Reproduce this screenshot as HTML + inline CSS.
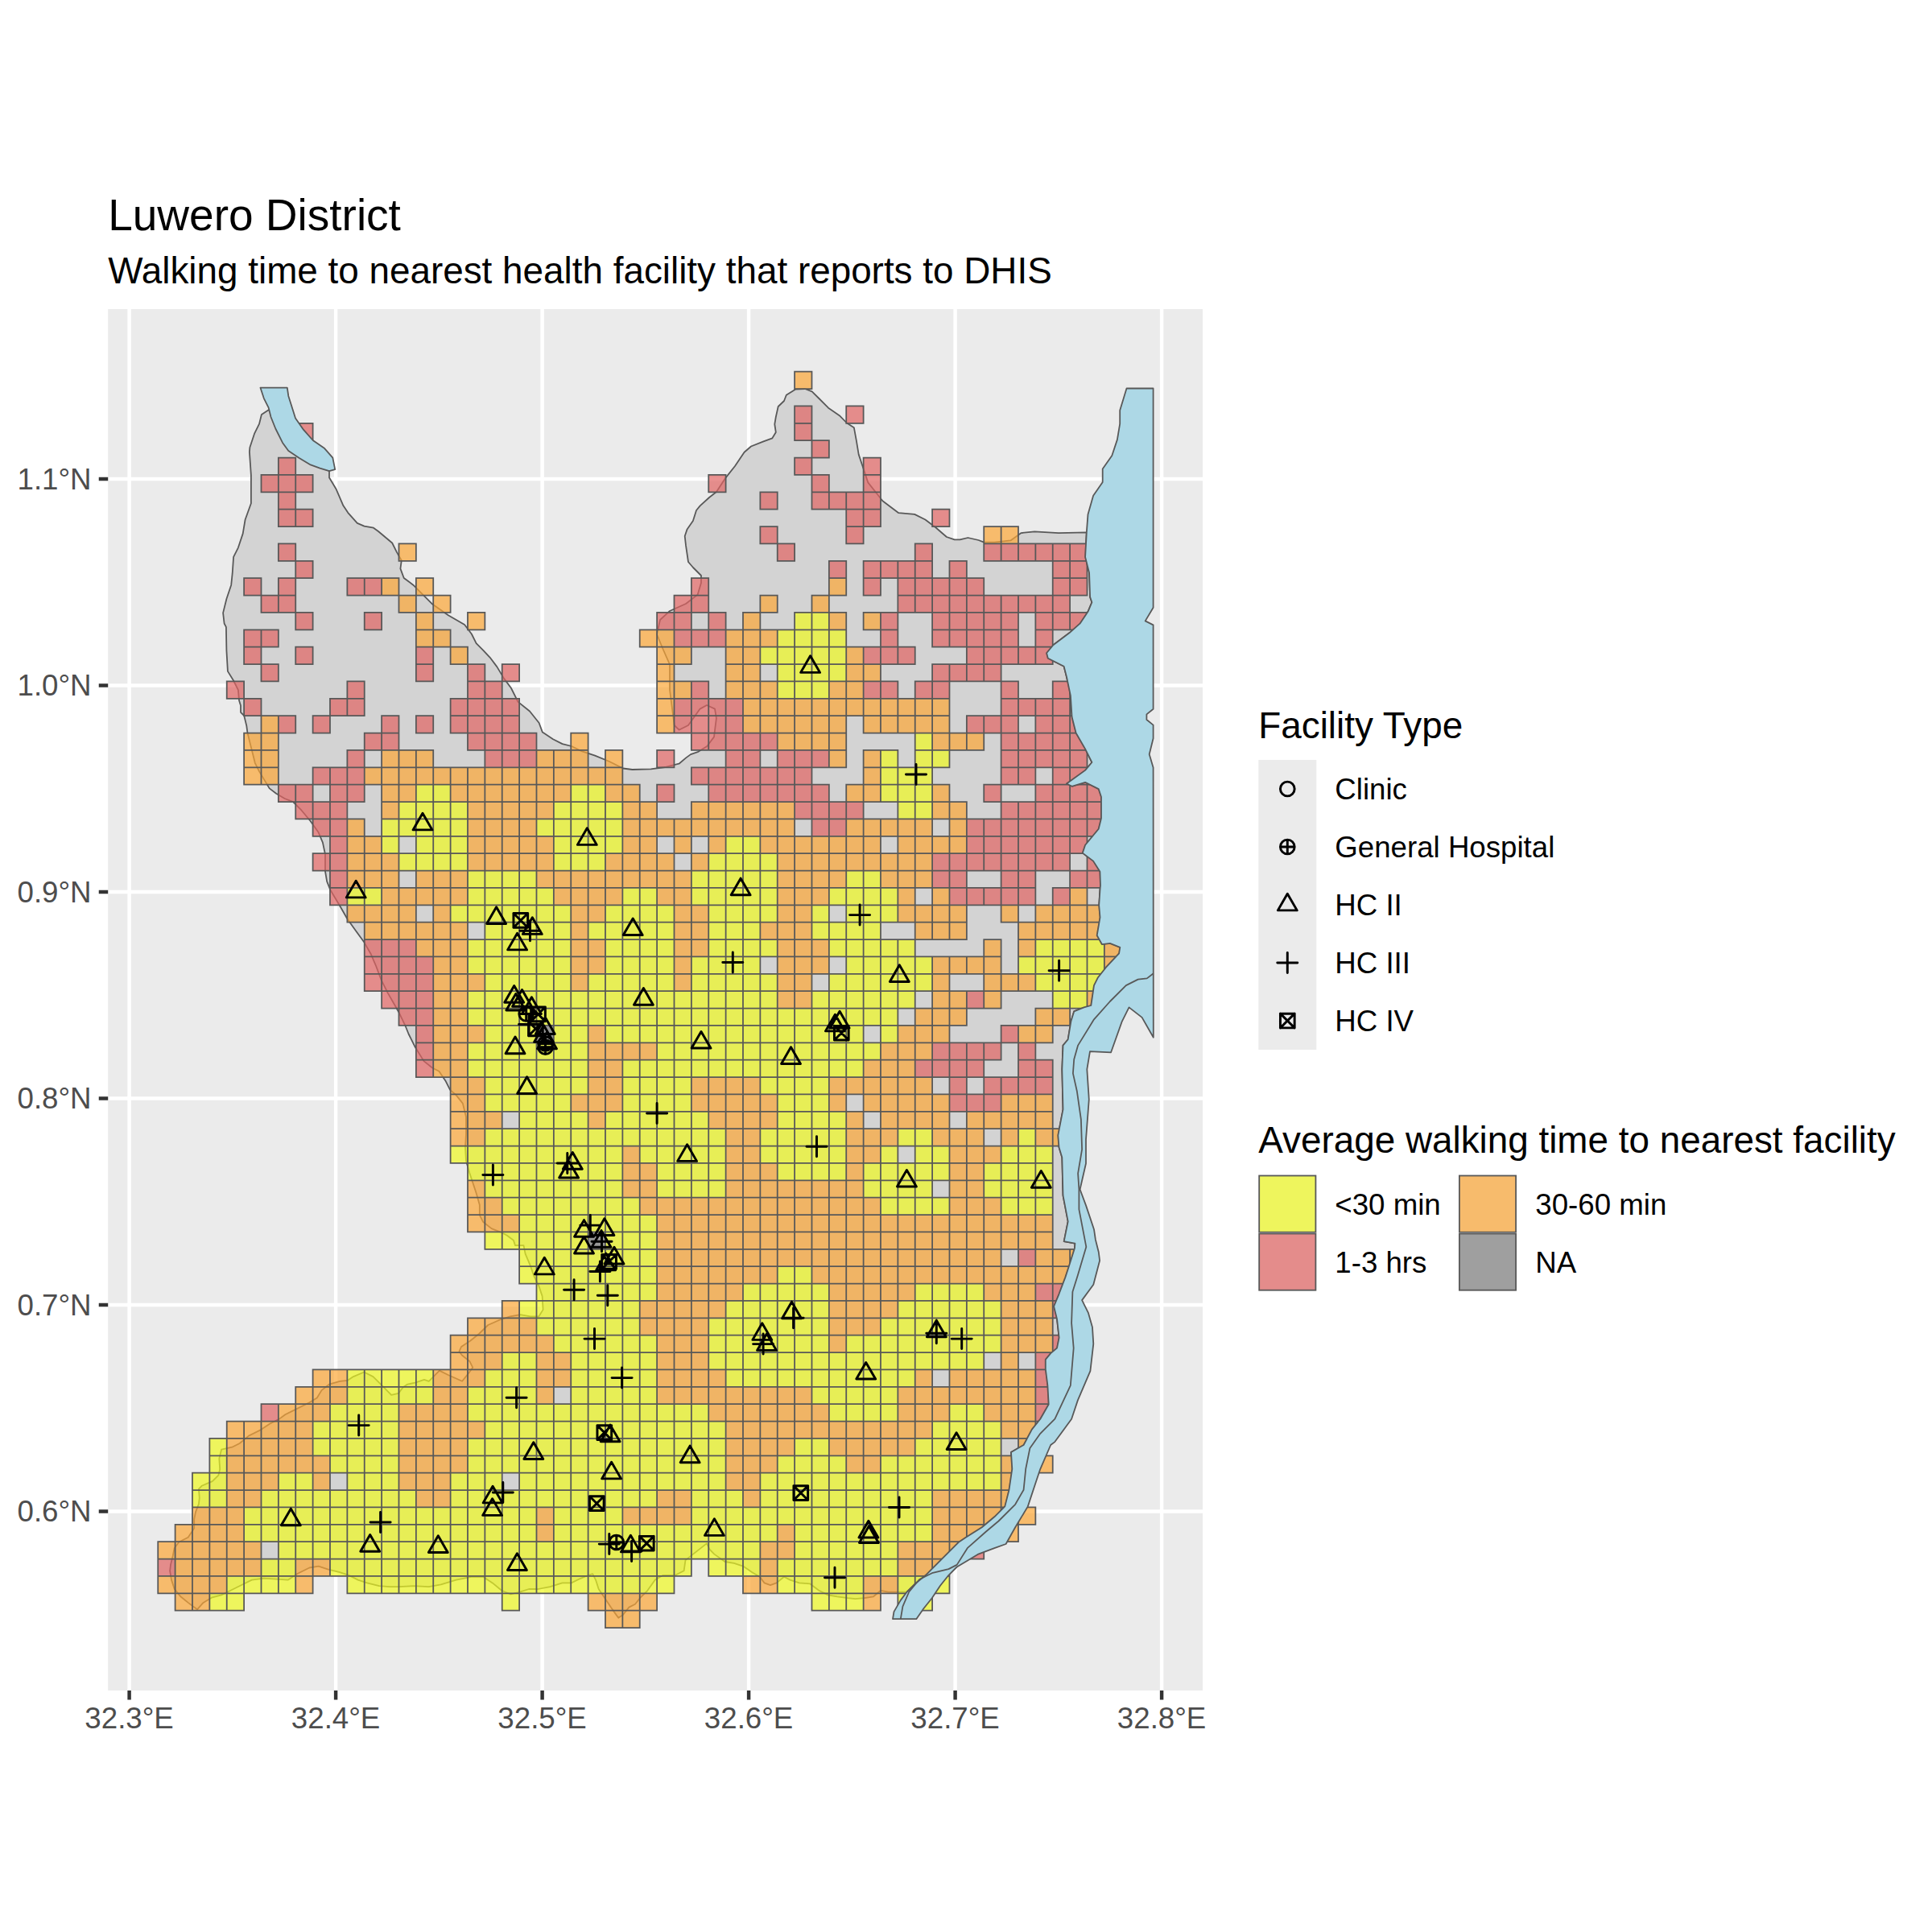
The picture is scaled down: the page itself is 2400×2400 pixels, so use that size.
<!DOCTYPE html>
<html><head><meta charset="utf-8"><style>html,body{margin:0;padding:0;background:#fff;}svg{display:block;}</style></head><body>
<svg width="2400" height="2400" viewBox="0 0 2400 2400">
<rect x="0" y="0" width="2400" height="2400" fill="#ffffff"/>
<rect x="134.2" y="384.0" width="1359.8" height="1716" fill="#ebebeb"/>
<clipPath id="pc"><rect x="134.2" y="384.0" width="1359.8" height="1716"/></clipPath>
<g clip-path="url(#pc)">
<path d="M160.6 384.0V2100.0M417.1 384.0V2100.0M673.6 384.0V2100.0M930.1 384.0V2100.0M1186.6 384.0V2100.0M1443.1 384.0V2100.0M134.2 1877.4H1494.0M134.2 1620.9H1494.0M134.2 1364.4H1494.0M134.2 1107.9H1494.0M134.2 851.4H1494.0M134.2 594.9H1494.0" stroke="#ffffff" stroke-width="4.45" fill="none"/>
<path d="M333.6 509.3 L340 515 L350 530 L365 550 L390 570 L409 585.2 L409 593.3 L417.7 607.8 L426.4 628.1 L432.2 636.8 L443.8 649.9 L452.5 653.6 L464 655.7 L469.9 660 L487.2 674.5 L493 686.1 L498.8 696.2 L497.4 706.4 L501.7 718 L513.3 726.7 L536.5 749.9 L556.8 764.3 L577.1 776 L585.8 787.5 L591.6 799.1 L600.3 807.8 L608.7 816.8 L617.4 828.4 L626.1 842.9 L634.8 854.5 L643.5 871.9 L658 883.5 L669.6 898 L673.9 909.6 L687 918.3 L698.6 924.1 L710.1 927 L721.7 932.8 L739.1 938.6 L756.5 945.8 L773.9 954.5 L785.5 956 L808.7 955.4 L826.1 953 L843.5 948.7 L852.2 941.4 L858 937.1 L866.7 934.2 L878.3 927 L887 915.4 L889.9 892.2 L888 880.6 L878 876 L869.6 880.6 L855 901 L843.5 906.7 L837.7 901 L832 857 L832 825.5 L823 805 L816 788 L820 770 L832 759 L852 750 L866.7 738.6 L871 724 L871 715 L861 705 L855 698 L852 677.7 L850.7 666 L853.6 657.4 L860.9 647 L865 634 L869.6 628.4 L881 618 L890 611 L901.4 593.6 L913 579 L924.6 561.7 L933 554.5 L947.8 548.7 L959.4 544.3 L963.8 537 L962.3 527 L963.8 518 L966.7 505 L974 498 L976.8 490.7 L988.4 483.5 L1000 483 L1008.7 486.4 L1017.4 495 L1029 506.7 L1043.5 516.8 L1052 525.5 L1060.9 531.3 L1063.8 547.2 L1066.7 564.6 L1072.5 582 L1078.3 599.4 L1089.9 614 L1096.4 622.3 L1116.3 637.2 L1136.1 638.9 L1149.4 645.5 L1162.6 655.5 L1175.9 667 L1185.8 670.4 L1192.5 670.4 L1202.4 668 L1215.6 671 L1222.3 673.7 L1235.5 673.7 L1255.4 671.4 L1268.6 662.1 L1285.2 660.4 L1315 662.1 L1349.8 661.4 L1348.1 691.9 L1353.1 711.8 L1354.1 741.6 L1356.4 748.2 L1351.5 759.8 L1341.5 774.7 L1328.3 786.3 L1308.4 801.2 L1300.1 811.2 L1301.8 817.8 L1321.6 827.7 L1325 841 L1329.9 864.2 L1331.6 890.7 L1336.6 910.5 L1348.1 930.4 L1356.4 947 L1348.1 956.9 L1325 973.5 L1331.6 976.8 L1348.1 971.8 L1364.7 980.1 L1368 990 L1368 1016.5 L1364.7 1029.8 L1348.1 1049.7 L1344.8 1059.6 L1358.1 1069.6 L1366.4 1082.8 L1367 1100 L1366.5 1104.8 L1365.2 1124.7 L1366.5 1139.6 L1362.7 1162 L1369 1173.2 L1378.9 1171.9 L1391.3 1176.9 L1390.1 1184.3 L1373.9 1201.7 L1364 1214.2 L1359 1224.1 L1355.3 1249 L1346.6 1251.4 L1334.2 1256.4 L1330.4 1268.8 L1326.7 1291.2 L1320.5 1298.6 L1319.3 1328.4 L1320.5 1378.1 L1314.3 1410.4 L1315.5 1425.3 L1319.3 1437.8 L1320.5 1485 L1326.7 1517.3 L1321.7 1542.1 L1335.4 1544.6 L1335 1550.4 L1328.5 1571.1 L1323.4 1586.6 L1315.6 1607.3 L1309.1 1622.8 L1313 1638.4 L1315.6 1661.7 L1313 1674.6 L1305.2 1681.1 L1298.8 1688.9 L1298.8 1700.5 L1301.4 1721.2 L1302.7 1744.5 L1292.3 1762.7 L1281.9 1775.6 L1271.6 1795 L1256 1804.1 L1257.3 1824.8 L1253.5 1850.7 L1248.3 1871.4 L1235.3 1884.3 L1219.8 1897.3 L1199.1 1910.2 L1191.3 1915.4 L1175.8 1930.9 L1162.8 1943.9 L1149.9 1956.8 L1137 1967.2 L1126.6 1977.5 L1103.4 1977.7 L1094 1975.8 L1085.1 1983.3 L1073.8 1985.2 L1062.5 1986.1 L1053.1 1985.2 L1039.9 1983.3 L1028.6 1981.4 L1017.3 1975.8 L1006 1967.3 L992.8 1966.4 L981.5 1962.6 L974 1958.8 L964.6 1966.4 L957 1969.2 L949.5 1966.4 L943.8 1958.8 L934.4 1953.2 L923.1 1945.6 L911.8 1941.9 L900.5 1940 L887.3 1930.6 L881.7 1924.9 L877.9 1917.4 L861 1930.6 L851.5 1938.1 L849.6 1951.3 L838.3 1957 L823.3 1957 L813.8 1962.6 L804.4 1975.8 L795 1985.2 L789 1992.8 L781.4 1996.6 L773.9 2006 L768.2 2009.8 L758.8 1996.6 L751.3 1985.3 L743.7 1974 L740 1962.6 L736.2 1955.1 L730.5 1957 L721.1 1960.8 L709.8 1966.4 L698.5 1966.4 L683.4 1971.1 L668.4 1974 L657 1974 L645.7 1977.7 L634.4 1980.5 L623.1 1975.8 L611.8 1966.4 L600.5 1958.9 L585.4 1958.9 L566.6 1962.6 L547.8 1968.3 L532.7 1971.1 L513.8 1970.2 L495 1971.1 L484.2 1971.1 L471.1 1970.1 L456 1966.4 L444.7 1962.6 L433.4 1956.9 L422.1 1953.2 L407 1949.4 L395.7 1945.6 L384.4 1947.5 L369.3 1955 L358 1962.6 L343 1961.6 L327.9 1960.7 L312.8 1962.6 L301.5 1968.2 L286.4 1975.8 L275.1 1981.4 L263.8 1984.3 L252.5 1990.9 L245 1999.3 L241.2 1996.5 L233.7 1990.9 L224.3 1983.3 L216.7 1973.9 L213 1962.6 L211.1 1951.3 L212 1943.8 L214.8 1932.4 L216.7 1923 L222.4 1915.5 L233.7 1909.8 L241.2 1898.5 L241.2 1887.2 L243.1 1877.8 L246.9 1868.4 L247.8 1860.9 L246.9 1849.6 L250.6 1845.8 L263.8 1840.1 L271.4 1832.6 L273.2 1825.1 L272.3 1811.9 L275.1 1800.6 L288.3 1797.7 L297.7 1793 L309 1783.6 L324.1 1776.1 L335.4 1768.5 L346.7 1762.9 L354.3 1757.2 L365.6 1751.6 L384.4 1742.2 L393.8 1736.5 L399.5 1727.1 L408.9 1719.6 L422.1 1715.8 L431.5 1714.9 L439 1710.1 L452.2 1704.5 L463.5 1710.1 L474.8 1721.4 L486.1 1732.8 L495 1730.9 L500.7 1723.3 L506.3 1719.6 L515.7 1717.7 L527 1713.9 L532.7 1715.8 L540.2 1708.3 L545.9 1702.6 L557.2 1708.3 L574.1 1715.8 L581.7 1706.4 L587.3 1698.8 L583.6 1691.3 L574.1 1683.8 L570.4 1679 L573 1673 L584.3 1665.5 L595 1657 L606.3 1646 L621 1639.5 L633.7 1635.3 L646.3 1633.2 L658.9 1635.3 L669.4 1635.3 L674.6 1626.9 L673.6 1610.1 L669.4 1597.5 L663.1 1584.9 L658.9 1572.3 L652.6 1557.6 L650.5 1547.1 L640 1547.1 L637.9 1540.8 L629.5 1534.5 L621 1530.3 L610.5 1526.1 L600 1517.7 L595.8 1509.3 L595.8 1496.7 L591.6 1482 L587.4 1469.4 L583.2 1456.8 L579 1442.1 L578 1425.3 L579 1408.5 L579 1387.4 L574.8 1370.6 L566.4 1360.1 L559.1 1353.8 L553.8 1343.3 L545.4 1330.7 L537 1326.5 L526.5 1318.1 L516 1301.3 L507.6 1284.5 L503.4 1274 L495 1256.7 L490.2 1248.3 L481.8 1233.6 L473.4 1216.8 L467.1 1200 L460.8 1185.3 L452.4 1170.6 L441.8 1155.9 L431.3 1141.2 L422.9 1126.5 L416.6 1116 L410.3 1105.4 L406.1 1094.9 L404 1082.3 L404 1061.3 L400.9 1046.6 L395.6 1034 L385.1 1019.3 L374.6 1006.7 L364.1 996.2 L353.6 992 L343.1 985.7 L334.7 979.4 L328.4 968.9 L322.1 958.4 L316.8 947.8 L313.7 935.2 L310.5 922.6 L307.4 910 L306.3 901.6 L303.2 889 L299 884.8 L299 876.4 L297 870 L295.9 857.1 L290.1 845.5 L282.9 833.9 L281.4 807.8 L280.9 778.8 L278.6 774.5 L277.1 761.4 L281.4 744 L287.2 726.7 L288.7 712.2 L290.1 691.9 L295.9 680.3 L301.7 662.9 L304.6 645.5 L311.9 625.2 L311.9 590.4 L309.9 561.4 L310.4 555.7 L316.2 538.3 L322 526.7 L324.9 515Z" fill="#d3d3d3" stroke="#585858" stroke-width="1.78" stroke-linejoin="round"/>
<path d="M987.11 760.98h21.375v21.375h-21.375zM1008.48 760.98h21.375v21.375h-21.375zM965.73 782.36h21.375v21.375h-21.375zM987.11 782.36h21.375v21.375h-21.375zM1008.48 782.36h21.375v21.375h-21.375zM1029.86 782.36h21.375v21.375h-21.375zM944.36 803.73h21.375v21.375h-21.375zM965.73 803.73h21.375v21.375h-21.375zM987.11 803.73h21.375v21.375h-21.375zM1008.48 803.73h21.375v21.375h-21.375zM1029.86 803.73h21.375v21.375h-21.375zM965.73 825.11h21.375v21.375h-21.375zM987.11 825.11h21.375v21.375h-21.375zM1008.48 825.11h21.375v21.375h-21.375zM1029.86 825.11h21.375v21.375h-21.375zM965.73 846.48h21.375v21.375h-21.375zM987.11 846.48h21.375v21.375h-21.375zM1008.48 846.48h21.375v21.375h-21.375zM1136.73 910.61h21.375v21.375h-21.375zM1093.98 931.98h21.375v21.375h-21.375zM1136.73 931.98h21.375v21.375h-21.375zM1158.11 931.98h21.375v21.375h-21.375zM1093.98 953.36h21.375v21.375h-21.375zM1115.36 953.36h21.375v21.375h-21.375zM1136.73 953.36h21.375v21.375h-21.375zM516.86 974.73h21.375v21.375h-21.375zM538.23 974.73h21.375v21.375h-21.375zM709.23 974.73h21.375v21.375h-21.375zM730.61 974.73h21.375v21.375h-21.375zM1093.98 974.73h21.375v21.375h-21.375zM1115.36 974.73h21.375v21.375h-21.375zM1136.73 974.73h21.375v21.375h-21.375zM495.48 996.11h21.375v21.375h-21.375zM516.86 996.11h21.375v21.375h-21.375zM538.23 996.11h21.375v21.375h-21.375zM559.61 996.11h21.375v21.375h-21.375zM687.86 996.11h21.375v21.375h-21.375zM709.23 996.11h21.375v21.375h-21.375zM730.61 996.11h21.375v21.375h-21.375zM751.98 996.11h21.375v21.375h-21.375zM1115.36 996.11h21.375v21.375h-21.375zM1136.73 996.11h21.375v21.375h-21.375zM474.11 1017.48h21.375v21.375h-21.375zM495.48 1017.48h21.375v21.375h-21.375zM516.86 1017.48h21.375v21.375h-21.375zM538.23 1017.48h21.375v21.375h-21.375zM559.61 1017.48h21.375v21.375h-21.375zM666.48 1017.48h21.375v21.375h-21.375zM687.86 1017.48h21.375v21.375h-21.375zM709.23 1017.48h21.375v21.375h-21.375zM730.61 1017.48h21.375v21.375h-21.375zM751.98 1017.48h21.375v21.375h-21.375zM474.11 1038.86h21.375v21.375h-21.375zM516.86 1038.86h21.375v21.375h-21.375zM538.23 1038.86h21.375v21.375h-21.375zM559.61 1038.86h21.375v21.375h-21.375zM687.86 1038.86h21.375v21.375h-21.375zM709.23 1038.86h21.375v21.375h-21.375zM730.61 1038.86h21.375v21.375h-21.375zM751.98 1038.86h21.375v21.375h-21.375zM901.61 1038.86h21.375v21.375h-21.375zM922.98 1038.86h21.375v21.375h-21.375zM495.48 1060.23h21.375v21.375h-21.375zM516.86 1060.23h21.375v21.375h-21.375zM538.23 1060.23h21.375v21.375h-21.375zM559.61 1060.23h21.375v21.375h-21.375zM687.86 1060.23h21.375v21.375h-21.375zM709.23 1060.23h21.375v21.375h-21.375zM730.61 1060.23h21.375v21.375h-21.375zM880.23 1060.23h21.375v21.375h-21.375zM901.61 1060.23h21.375v21.375h-21.375zM922.98 1060.23h21.375v21.375h-21.375zM944.36 1060.23h21.375v21.375h-21.375zM580.98 1081.61h21.375v21.375h-21.375zM602.36 1081.61h21.375v21.375h-21.375zM623.73 1081.61h21.375v21.375h-21.375zM645.11 1081.61h21.375v21.375h-21.375zM858.86 1081.61h21.375v21.375h-21.375zM880.23 1081.61h21.375v21.375h-21.375zM901.61 1081.61h21.375v21.375h-21.375zM922.98 1081.61h21.375v21.375h-21.375zM944.36 1081.61h21.375v21.375h-21.375zM1051.23 1081.61h21.375v21.375h-21.375zM1072.61 1081.61h21.375v21.375h-21.375zM431.36 1102.98h21.375v21.375h-21.375zM452.73 1102.98h21.375v21.375h-21.375zM580.98 1102.98h21.375v21.375h-21.375zM602.36 1102.98h21.375v21.375h-21.375zM623.73 1102.98h21.375v21.375h-21.375zM645.11 1102.98h21.375v21.375h-21.375zM666.48 1102.98h21.375v21.375h-21.375zM773.36 1102.98h21.375v21.375h-21.375zM794.73 1102.98h21.375v21.375h-21.375zM858.86 1102.98h21.375v21.375h-21.375zM880.23 1102.98h21.375v21.375h-21.375zM901.61 1102.98h21.375v21.375h-21.375zM922.98 1102.98h21.375v21.375h-21.375zM944.36 1102.98h21.375v21.375h-21.375zM1029.86 1102.98h21.375v21.375h-21.375zM1051.23 1102.98h21.375v21.375h-21.375zM1072.61 1102.98h21.375v21.375h-21.375zM1093.98 1102.98h21.375v21.375h-21.375zM559.61 1124.36h21.375v21.375h-21.375zM580.98 1124.36h21.375v21.375h-21.375zM602.36 1124.36h21.375v21.375h-21.375zM623.73 1124.36h21.375v21.375h-21.375zM645.11 1124.36h21.375v21.375h-21.375zM666.48 1124.36h21.375v21.375h-21.375zM687.86 1124.36h21.375v21.375h-21.375zM751.98 1124.36h21.375v21.375h-21.375zM773.36 1124.36h21.375v21.375h-21.375zM794.73 1124.36h21.375v21.375h-21.375zM816.11 1124.36h21.375v21.375h-21.375zM880.23 1124.36h21.375v21.375h-21.375zM901.61 1124.36h21.375v21.375h-21.375zM922.98 1124.36h21.375v21.375h-21.375zM944.36 1124.36h21.375v21.375h-21.375zM1008.48 1124.36h21.375v21.375h-21.375zM1051.23 1124.36h21.375v21.375h-21.375zM1072.61 1124.36h21.375v21.375h-21.375zM1093.98 1124.36h21.375v21.375h-21.375zM602.36 1145.73h21.375v21.375h-21.375zM623.73 1145.73h21.375v21.375h-21.375zM645.11 1145.73h21.375v21.375h-21.375zM666.48 1145.73h21.375v21.375h-21.375zM687.86 1145.73h21.375v21.375h-21.375zM730.61 1145.73h21.375v21.375h-21.375zM751.98 1145.73h21.375v21.375h-21.375zM773.36 1145.73h21.375v21.375h-21.375zM794.73 1145.73h21.375v21.375h-21.375zM816.11 1145.73h21.375v21.375h-21.375zM880.23 1145.73h21.375v21.375h-21.375zM901.61 1145.73h21.375v21.375h-21.375zM922.98 1145.73h21.375v21.375h-21.375zM1008.48 1145.73h21.375v21.375h-21.375zM1029.86 1145.73h21.375v21.375h-21.375zM1051.23 1145.73h21.375v21.375h-21.375zM1072.61 1145.73h21.375v21.375h-21.375zM580.98 1167.11h21.375v21.375h-21.375zM602.36 1167.11h21.375v21.375h-21.375zM623.73 1167.11h21.375v21.375h-21.375zM645.11 1167.11h21.375v21.375h-21.375zM666.48 1167.11h21.375v21.375h-21.375zM687.86 1167.11h21.375v21.375h-21.375zM751.98 1167.11h21.375v21.375h-21.375zM773.36 1167.11h21.375v21.375h-21.375zM794.73 1167.11h21.375v21.375h-21.375zM816.11 1167.11h21.375v21.375h-21.375zM880.23 1167.11h21.375v21.375h-21.375zM901.61 1167.11h21.375v21.375h-21.375zM922.98 1167.11h21.375v21.375h-21.375zM944.36 1167.11h21.375v21.375h-21.375zM1029.86 1167.11h21.375v21.375h-21.375zM1051.23 1167.11h21.375v21.375h-21.375zM1072.61 1167.11h21.375v21.375h-21.375zM1093.98 1167.11h21.375v21.375h-21.375zM1115.36 1167.11h21.375v21.375h-21.375zM1286.36 1167.11h21.375v21.375h-21.375zM1307.73 1167.11h21.375v21.375h-21.375zM1329.11 1167.11h21.375v21.375h-21.375zM1350.48 1167.11h21.375v21.375h-21.375zM580.98 1188.48h21.375v21.375h-21.375zM602.36 1188.48h21.375v21.375h-21.375zM623.73 1188.48h21.375v21.375h-21.375zM645.11 1188.48h21.375v21.375h-21.375zM666.48 1188.48h21.375v21.375h-21.375zM687.86 1188.48h21.375v21.375h-21.375zM751.98 1188.48h21.375v21.375h-21.375zM773.36 1188.48h21.375v21.375h-21.375zM794.73 1188.48h21.375v21.375h-21.375zM816.11 1188.48h21.375v21.375h-21.375zM858.86 1188.48h21.375v21.375h-21.375zM880.23 1188.48h21.375v21.375h-21.375zM901.61 1188.48h21.375v21.375h-21.375zM922.98 1188.48h21.375v21.375h-21.375zM1051.23 1188.48h21.375v21.375h-21.375zM1072.61 1188.48h21.375v21.375h-21.375zM1093.98 1188.48h21.375v21.375h-21.375zM1115.36 1188.48h21.375v21.375h-21.375zM1136.73 1188.48h21.375v21.375h-21.375zM1264.98 1188.48h21.375v21.375h-21.375zM1286.36 1188.48h21.375v21.375h-21.375zM1307.73 1188.48h21.375v21.375h-21.375zM1329.11 1188.48h21.375v21.375h-21.375zM1350.48 1188.48h21.375v21.375h-21.375zM602.36 1209.86h21.375v21.375h-21.375zM623.73 1209.86h21.375v21.375h-21.375zM645.11 1209.86h21.375v21.375h-21.375zM666.48 1209.86h21.375v21.375h-21.375zM687.86 1209.86h21.375v21.375h-21.375zM730.61 1209.86h21.375v21.375h-21.375zM751.98 1209.86h21.375v21.375h-21.375zM773.36 1209.86h21.375v21.375h-21.375zM794.73 1209.86h21.375v21.375h-21.375zM816.11 1209.86h21.375v21.375h-21.375zM858.86 1209.86h21.375v21.375h-21.375zM880.23 1209.86h21.375v21.375h-21.375zM901.61 1209.86h21.375v21.375h-21.375zM922.98 1209.86h21.375v21.375h-21.375zM944.36 1209.86h21.375v21.375h-21.375zM1029.86 1209.86h21.375v21.375h-21.375zM1051.23 1209.86h21.375v21.375h-21.375zM1072.61 1209.86h21.375v21.375h-21.375zM1093.98 1209.86h21.375v21.375h-21.375zM1115.36 1209.86h21.375v21.375h-21.375zM1136.73 1209.86h21.375v21.375h-21.375zM1286.36 1209.86h21.375v21.375h-21.375zM1307.73 1209.86h21.375v21.375h-21.375zM1329.11 1209.86h21.375v21.375h-21.375zM1350.48 1209.86h21.375v21.375h-21.375zM580.98 1231.23h21.375v21.375h-21.375zM602.36 1231.23h21.375v21.375h-21.375zM623.73 1231.23h21.375v21.375h-21.375zM645.11 1231.23h21.375v21.375h-21.375zM666.48 1231.23h21.375v21.375h-21.375zM687.86 1231.23h21.375v21.375h-21.375zM709.23 1231.23h21.375v21.375h-21.375zM730.61 1231.23h21.375v21.375h-21.375zM751.98 1231.23h21.375v21.375h-21.375zM773.36 1231.23h21.375v21.375h-21.375zM794.73 1231.23h21.375v21.375h-21.375zM816.11 1231.23h21.375v21.375h-21.375zM837.48 1231.23h21.375v21.375h-21.375zM858.86 1231.23h21.375v21.375h-21.375zM880.23 1231.23h21.375v21.375h-21.375zM901.61 1231.23h21.375v21.375h-21.375zM922.98 1231.23h21.375v21.375h-21.375zM944.36 1231.23h21.375v21.375h-21.375zM1008.48 1231.23h21.375v21.375h-21.375zM1029.86 1231.23h21.375v21.375h-21.375zM1051.23 1231.23h21.375v21.375h-21.375zM1072.61 1231.23h21.375v21.375h-21.375zM1093.98 1231.23h21.375v21.375h-21.375zM1115.36 1231.23h21.375v21.375h-21.375zM1307.73 1231.23h21.375v21.375h-21.375zM1329.11 1231.23h21.375v21.375h-21.375zM580.98 1252.61h21.375v21.375h-21.375zM602.36 1252.61h21.375v21.375h-21.375zM623.73 1252.61h21.375v21.375h-21.375zM645.11 1252.61h21.375v21.375h-21.375zM666.48 1252.61h21.375v21.375h-21.375zM687.86 1252.61h21.375v21.375h-21.375zM709.23 1252.61h21.375v21.375h-21.375zM730.61 1252.61h21.375v21.375h-21.375zM751.98 1252.61h21.375v21.375h-21.375zM773.36 1252.61h21.375v21.375h-21.375zM794.73 1252.61h21.375v21.375h-21.375zM816.11 1252.61h21.375v21.375h-21.375zM837.48 1252.61h21.375v21.375h-21.375zM858.86 1252.61h21.375v21.375h-21.375zM880.23 1252.61h21.375v21.375h-21.375zM901.61 1252.61h21.375v21.375h-21.375zM922.98 1252.61h21.375v21.375h-21.375zM944.36 1252.61h21.375v21.375h-21.375zM965.73 1252.61h21.375v21.375h-21.375zM987.11 1252.61h21.375v21.375h-21.375zM1008.48 1252.61h21.375v21.375h-21.375zM1029.86 1252.61h21.375v21.375h-21.375zM1051.23 1252.61h21.375v21.375h-21.375zM1072.61 1252.61h21.375v21.375h-21.375zM1093.98 1252.61h21.375v21.375h-21.375zM602.36 1273.98h21.375v21.375h-21.375zM623.73 1273.98h21.375v21.375h-21.375zM645.11 1273.98h21.375v21.375h-21.375zM687.86 1273.98h21.375v21.375h-21.375zM709.23 1273.98h21.375v21.375h-21.375zM751.98 1273.98h21.375v21.375h-21.375zM773.36 1273.98h21.375v21.375h-21.375zM794.73 1273.98h21.375v21.375h-21.375zM816.11 1273.98h21.375v21.375h-21.375zM837.48 1273.98h21.375v21.375h-21.375zM858.86 1273.98h21.375v21.375h-21.375zM880.23 1273.98h21.375v21.375h-21.375zM901.61 1273.98h21.375v21.375h-21.375zM922.98 1273.98h21.375v21.375h-21.375zM944.36 1273.98h21.375v21.375h-21.375zM965.73 1273.98h21.375v21.375h-21.375zM987.11 1273.98h21.375v21.375h-21.375zM1008.48 1273.98h21.375v21.375h-21.375zM1029.86 1273.98h21.375v21.375h-21.375zM1051.23 1273.98h21.375v21.375h-21.375zM1093.98 1273.98h21.375v21.375h-21.375zM580.98 1295.36h21.375v21.375h-21.375zM602.36 1295.36h21.375v21.375h-21.375zM623.73 1295.36h21.375v21.375h-21.375zM645.11 1295.36h21.375v21.375h-21.375zM666.48 1295.36h21.375v21.375h-21.375zM687.86 1295.36h21.375v21.375h-21.375zM709.23 1295.36h21.375v21.375h-21.375zM816.11 1295.36h21.375v21.375h-21.375zM837.48 1295.36h21.375v21.375h-21.375zM858.86 1295.36h21.375v21.375h-21.375zM880.23 1295.36h21.375v21.375h-21.375zM901.61 1295.36h21.375v21.375h-21.375zM922.98 1295.36h21.375v21.375h-21.375zM944.36 1295.36h21.375v21.375h-21.375zM965.73 1295.36h21.375v21.375h-21.375zM987.11 1295.36h21.375v21.375h-21.375zM1008.48 1295.36h21.375v21.375h-21.375zM1029.86 1295.36h21.375v21.375h-21.375zM1051.23 1295.36h21.375v21.375h-21.375zM1072.61 1295.36h21.375v21.375h-21.375zM580.98 1316.73h21.375v21.375h-21.375zM602.36 1316.73h21.375v21.375h-21.375zM623.73 1316.73h21.375v21.375h-21.375zM645.11 1316.73h21.375v21.375h-21.375zM666.48 1316.73h21.375v21.375h-21.375zM687.86 1316.73h21.375v21.375h-21.375zM709.23 1316.73h21.375v21.375h-21.375zM773.36 1316.73h21.375v21.375h-21.375zM794.73 1316.73h21.375v21.375h-21.375zM816.11 1316.73h21.375v21.375h-21.375zM837.48 1316.73h21.375v21.375h-21.375zM858.86 1316.73h21.375v21.375h-21.375zM880.23 1316.73h21.375v21.375h-21.375zM901.61 1316.73h21.375v21.375h-21.375zM922.98 1316.73h21.375v21.375h-21.375zM944.36 1316.73h21.375v21.375h-21.375zM965.73 1316.73h21.375v21.375h-21.375zM987.11 1316.73h21.375v21.375h-21.375zM1008.48 1316.73h21.375v21.375h-21.375zM1029.86 1316.73h21.375v21.375h-21.375zM1051.23 1316.73h21.375v21.375h-21.375zM602.36 1338.11h21.375v21.375h-21.375zM623.73 1338.11h21.375v21.375h-21.375zM645.11 1338.11h21.375v21.375h-21.375zM666.48 1338.11h21.375v21.375h-21.375zM687.86 1338.11h21.375v21.375h-21.375zM709.23 1338.11h21.375v21.375h-21.375zM773.36 1338.11h21.375v21.375h-21.375zM794.73 1338.11h21.375v21.375h-21.375zM816.11 1338.11h21.375v21.375h-21.375zM837.48 1338.11h21.375v21.375h-21.375zM944.36 1338.11h21.375v21.375h-21.375zM965.73 1338.11h21.375v21.375h-21.375zM987.11 1338.11h21.375v21.375h-21.375zM1008.48 1338.11h21.375v21.375h-21.375zM602.36 1359.48h21.375v21.375h-21.375zM623.73 1359.48h21.375v21.375h-21.375zM645.11 1359.48h21.375v21.375h-21.375zM666.48 1359.48h21.375v21.375h-21.375zM687.86 1359.48h21.375v21.375h-21.375zM773.36 1359.48h21.375v21.375h-21.375zM794.73 1359.48h21.375v21.375h-21.375zM816.11 1359.48h21.375v21.375h-21.375zM837.48 1359.48h21.375v21.375h-21.375zM965.73 1359.48h21.375v21.375h-21.375zM987.11 1359.48h21.375v21.375h-21.375zM1008.48 1359.48h21.375v21.375h-21.375zM645.11 1380.86h21.375v21.375h-21.375zM666.48 1380.86h21.375v21.375h-21.375zM687.86 1380.86h21.375v21.375h-21.375zM709.23 1380.86h21.375v21.375h-21.375zM751.98 1380.86h21.375v21.375h-21.375zM773.36 1380.86h21.375v21.375h-21.375zM794.73 1380.86h21.375v21.375h-21.375zM816.11 1380.86h21.375v21.375h-21.375zM837.48 1380.86h21.375v21.375h-21.375zM858.86 1380.86h21.375v21.375h-21.375zM965.73 1380.86h21.375v21.375h-21.375zM987.11 1380.86h21.375v21.375h-21.375zM1008.48 1380.86h21.375v21.375h-21.375zM1029.86 1380.86h21.375v21.375h-21.375zM602.36 1402.23h21.375v21.375h-21.375zM623.73 1402.23h21.375v21.375h-21.375zM645.11 1402.23h21.375v21.375h-21.375zM666.48 1402.23h21.375v21.375h-21.375zM687.86 1402.23h21.375v21.375h-21.375zM709.23 1402.23h21.375v21.375h-21.375zM730.61 1402.23h21.375v21.375h-21.375zM751.98 1402.23h21.375v21.375h-21.375zM773.36 1402.23h21.375v21.375h-21.375zM794.73 1402.23h21.375v21.375h-21.375zM816.11 1402.23h21.375v21.375h-21.375zM837.48 1402.23h21.375v21.375h-21.375zM858.86 1402.23h21.375v21.375h-21.375zM880.23 1402.23h21.375v21.375h-21.375zM944.36 1402.23h21.375v21.375h-21.375zM965.73 1402.23h21.375v21.375h-21.375zM987.11 1402.23h21.375v21.375h-21.375zM1008.48 1402.23h21.375v21.375h-21.375zM1029.86 1402.23h21.375v21.375h-21.375zM1115.36 1402.23h21.375v21.375h-21.375zM1136.73 1402.23h21.375v21.375h-21.375zM1264.98 1402.23h21.375v21.375h-21.375zM559.61 1423.61h21.375v21.375h-21.375zM580.98 1423.61h21.375v21.375h-21.375zM602.36 1423.61h21.375v21.375h-21.375zM623.73 1423.61h21.375v21.375h-21.375zM645.11 1423.61h21.375v21.375h-21.375zM666.48 1423.61h21.375v21.375h-21.375zM687.86 1423.61h21.375v21.375h-21.375zM709.23 1423.61h21.375v21.375h-21.375zM730.61 1423.61h21.375v21.375h-21.375zM751.98 1423.61h21.375v21.375h-21.375zM794.73 1423.61h21.375v21.375h-21.375zM816.11 1423.61h21.375v21.375h-21.375zM837.48 1423.61h21.375v21.375h-21.375zM858.86 1423.61h21.375v21.375h-21.375zM880.23 1423.61h21.375v21.375h-21.375zM944.36 1423.61h21.375v21.375h-21.375zM965.73 1423.61h21.375v21.375h-21.375zM987.11 1423.61h21.375v21.375h-21.375zM1008.48 1423.61h21.375v21.375h-21.375zM1029.86 1423.61h21.375v21.375h-21.375zM1093.98 1423.61h21.375v21.375h-21.375zM1136.73 1423.61h21.375v21.375h-21.375zM1158.11 1423.61h21.375v21.375h-21.375zM1243.61 1423.61h21.375v21.375h-21.375zM1264.98 1423.61h21.375v21.375h-21.375zM1286.36 1423.61h21.375v21.375h-21.375zM580.98 1444.98h21.375v21.375h-21.375zM602.36 1444.98h21.375v21.375h-21.375zM623.73 1444.98h21.375v21.375h-21.375zM645.11 1444.98h21.375v21.375h-21.375zM666.48 1444.98h21.375v21.375h-21.375zM687.86 1444.98h21.375v21.375h-21.375zM709.23 1444.98h21.375v21.375h-21.375zM730.61 1444.98h21.375v21.375h-21.375zM751.98 1444.98h21.375v21.375h-21.375zM816.11 1444.98h21.375v21.375h-21.375zM837.48 1444.98h21.375v21.375h-21.375zM858.86 1444.98h21.375v21.375h-21.375zM880.23 1444.98h21.375v21.375h-21.375zM965.73 1444.98h21.375v21.375h-21.375zM987.11 1444.98h21.375v21.375h-21.375zM1008.48 1444.98h21.375v21.375h-21.375zM1029.86 1444.98h21.375v21.375h-21.375zM1072.61 1444.98h21.375v21.375h-21.375zM1093.98 1444.98h21.375v21.375h-21.375zM1115.36 1444.98h21.375v21.375h-21.375zM1136.73 1444.98h21.375v21.375h-21.375zM1158.11 1444.98h21.375v21.375h-21.375zM1222.23 1444.98h21.375v21.375h-21.375zM1243.61 1444.98h21.375v21.375h-21.375zM1264.98 1444.98h21.375v21.375h-21.375zM1286.36 1444.98h21.375v21.375h-21.375zM602.36 1466.36h21.375v21.375h-21.375zM623.73 1466.36h21.375v21.375h-21.375zM645.11 1466.36h21.375v21.375h-21.375zM666.48 1466.36h21.375v21.375h-21.375zM687.86 1466.36h21.375v21.375h-21.375zM709.23 1466.36h21.375v21.375h-21.375zM730.61 1466.36h21.375v21.375h-21.375zM751.98 1466.36h21.375v21.375h-21.375zM816.11 1466.36h21.375v21.375h-21.375zM837.48 1466.36h21.375v21.375h-21.375zM858.86 1466.36h21.375v21.375h-21.375zM880.23 1466.36h21.375v21.375h-21.375zM1072.61 1466.36h21.375v21.375h-21.375zM1093.98 1466.36h21.375v21.375h-21.375zM1115.36 1466.36h21.375v21.375h-21.375zM1136.73 1466.36h21.375v21.375h-21.375zM1222.23 1466.36h21.375v21.375h-21.375zM1243.61 1466.36h21.375v21.375h-21.375zM1264.98 1466.36h21.375v21.375h-21.375zM1286.36 1466.36h21.375v21.375h-21.375zM623.73 1487.73h21.375v21.375h-21.375zM645.11 1487.73h21.375v21.375h-21.375zM666.48 1487.73h21.375v21.375h-21.375zM687.86 1487.73h21.375v21.375h-21.375zM709.23 1487.73h21.375v21.375h-21.375zM730.61 1487.73h21.375v21.375h-21.375zM751.98 1487.73h21.375v21.375h-21.375zM773.36 1487.73h21.375v21.375h-21.375zM1093.98 1487.73h21.375v21.375h-21.375zM1115.36 1487.73h21.375v21.375h-21.375zM1136.73 1487.73h21.375v21.375h-21.375zM1158.11 1487.73h21.375v21.375h-21.375zM1243.61 1487.73h21.375v21.375h-21.375zM1264.98 1487.73h21.375v21.375h-21.375zM1286.36 1487.73h21.375v21.375h-21.375zM645.11 1509.11h21.375v21.375h-21.375zM666.48 1509.11h21.375v21.375h-21.375zM687.86 1509.11h21.375v21.375h-21.375zM709.23 1509.11h21.375v21.375h-21.375zM730.61 1509.11h21.375v21.375h-21.375zM751.98 1509.11h21.375v21.375h-21.375zM773.36 1509.11h21.375v21.375h-21.375zM794.73 1509.11h21.375v21.375h-21.375zM602.36 1530.48h21.375v21.375h-21.375zM623.73 1530.48h21.375v21.375h-21.375zM645.11 1530.48h21.375v21.375h-21.375zM666.48 1530.48h21.375v21.375h-21.375zM687.86 1530.48h21.375v21.375h-21.375zM709.23 1530.48h21.375v21.375h-21.375zM751.98 1530.48h21.375v21.375h-21.375zM773.36 1530.48h21.375v21.375h-21.375zM794.73 1530.48h21.375v21.375h-21.375zM645.11 1551.86h21.375v21.375h-21.375zM666.48 1551.86h21.375v21.375h-21.375zM687.86 1551.86h21.375v21.375h-21.375zM709.23 1551.86h21.375v21.375h-21.375zM730.61 1551.86h21.375v21.375h-21.375zM751.98 1551.86h21.375v21.375h-21.375zM773.36 1551.86h21.375v21.375h-21.375zM794.73 1551.86h21.375v21.375h-21.375zM645.11 1573.23h21.375v21.375h-21.375zM666.48 1573.23h21.375v21.375h-21.375zM687.86 1573.23h21.375v21.375h-21.375zM709.23 1573.23h21.375v21.375h-21.375zM730.61 1573.23h21.375v21.375h-21.375zM751.98 1573.23h21.375v21.375h-21.375zM773.36 1573.23h21.375v21.375h-21.375zM794.73 1573.23h21.375v21.375h-21.375zM965.73 1573.23h21.375v21.375h-21.375zM987.11 1573.23h21.375v21.375h-21.375zM666.48 1594.61h21.375v21.375h-21.375zM687.86 1594.61h21.375v21.375h-21.375zM709.23 1594.61h21.375v21.375h-21.375zM730.61 1594.61h21.375v21.375h-21.375zM751.98 1594.61h21.375v21.375h-21.375zM773.36 1594.61h21.375v21.375h-21.375zM794.73 1594.61h21.375v21.375h-21.375zM922.98 1594.61h21.375v21.375h-21.375zM944.36 1594.61h21.375v21.375h-21.375zM965.73 1594.61h21.375v21.375h-21.375zM987.11 1594.61h21.375v21.375h-21.375zM1008.48 1594.61h21.375v21.375h-21.375zM1136.73 1594.61h21.375v21.375h-21.375zM1158.11 1594.61h21.375v21.375h-21.375zM1179.48 1594.61h21.375v21.375h-21.375zM1200.86 1594.61h21.375v21.375h-21.375zM645.11 1615.98h21.375v21.375h-21.375zM666.48 1615.98h21.375v21.375h-21.375zM687.86 1615.98h21.375v21.375h-21.375zM709.23 1615.98h21.375v21.375h-21.375zM730.61 1615.98h21.375v21.375h-21.375zM751.98 1615.98h21.375v21.375h-21.375zM773.36 1615.98h21.375v21.375h-21.375zM901.61 1615.98h21.375v21.375h-21.375zM922.98 1615.98h21.375v21.375h-21.375zM944.36 1615.98h21.375v21.375h-21.375zM965.73 1615.98h21.375v21.375h-21.375zM987.11 1615.98h21.375v21.375h-21.375zM1008.48 1615.98h21.375v21.375h-21.375zM1115.36 1615.98h21.375v21.375h-21.375zM1136.73 1615.98h21.375v21.375h-21.375zM1158.11 1615.98h21.375v21.375h-21.375zM1179.48 1615.98h21.375v21.375h-21.375zM1200.86 1615.98h21.375v21.375h-21.375zM1222.23 1615.98h21.375v21.375h-21.375zM666.48 1637.36h21.375v21.375h-21.375zM687.86 1637.36h21.375v21.375h-21.375zM709.23 1637.36h21.375v21.375h-21.375zM730.61 1637.36h21.375v21.375h-21.375zM751.98 1637.36h21.375v21.375h-21.375zM773.36 1637.36h21.375v21.375h-21.375zM880.23 1637.36h21.375v21.375h-21.375zM901.61 1637.36h21.375v21.375h-21.375zM922.98 1637.36h21.375v21.375h-21.375zM944.36 1637.36h21.375v21.375h-21.375zM965.73 1637.36h21.375v21.375h-21.375zM987.11 1637.36h21.375v21.375h-21.375zM1008.48 1637.36h21.375v21.375h-21.375zM1093.98 1637.36h21.375v21.375h-21.375zM1115.36 1637.36h21.375v21.375h-21.375zM1136.73 1637.36h21.375v21.375h-21.375zM1158.11 1637.36h21.375v21.375h-21.375zM1179.48 1637.36h21.375v21.375h-21.375zM1200.86 1637.36h21.375v21.375h-21.375zM1222.23 1637.36h21.375v21.375h-21.375zM687.86 1658.73h21.375v21.375h-21.375zM709.23 1658.73h21.375v21.375h-21.375zM730.61 1658.73h21.375v21.375h-21.375zM751.98 1658.73h21.375v21.375h-21.375zM773.36 1658.73h21.375v21.375h-21.375zM794.73 1658.73h21.375v21.375h-21.375zM880.23 1658.73h21.375v21.375h-21.375zM901.61 1658.73h21.375v21.375h-21.375zM922.98 1658.73h21.375v21.375h-21.375zM944.36 1658.73h21.375v21.375h-21.375zM965.73 1658.73h21.375v21.375h-21.375zM987.11 1658.73h21.375v21.375h-21.375zM1008.48 1658.73h21.375v21.375h-21.375zM1051.23 1658.73h21.375v21.375h-21.375zM1072.61 1658.73h21.375v21.375h-21.375zM1093.98 1658.73h21.375v21.375h-21.375zM1115.36 1658.73h21.375v21.375h-21.375zM1136.73 1658.73h21.375v21.375h-21.375zM1158.11 1658.73h21.375v21.375h-21.375zM1179.48 1658.73h21.375v21.375h-21.375zM1200.86 1658.73h21.375v21.375h-21.375zM1222.23 1658.73h21.375v21.375h-21.375zM623.73 1680.11h21.375v21.375h-21.375zM645.11 1680.11h21.375v21.375h-21.375zM709.23 1680.11h21.375v21.375h-21.375zM730.61 1680.11h21.375v21.375h-21.375zM751.98 1680.11h21.375v21.375h-21.375zM773.36 1680.11h21.375v21.375h-21.375zM794.73 1680.11h21.375v21.375h-21.375zM880.23 1680.11h21.375v21.375h-21.375zM901.61 1680.11h21.375v21.375h-21.375zM922.98 1680.11h21.375v21.375h-21.375zM944.36 1680.11h21.375v21.375h-21.375zM965.73 1680.11h21.375v21.375h-21.375zM987.11 1680.11h21.375v21.375h-21.375zM1008.48 1680.11h21.375v21.375h-21.375zM1029.86 1680.11h21.375v21.375h-21.375zM1051.23 1680.11h21.375v21.375h-21.375zM1072.61 1680.11h21.375v21.375h-21.375zM1093.98 1680.11h21.375v21.375h-21.375zM1115.36 1680.11h21.375v21.375h-21.375zM1136.73 1680.11h21.375v21.375h-21.375zM1158.11 1680.11h21.375v21.375h-21.375zM1179.48 1680.11h21.375v21.375h-21.375zM1200.86 1680.11h21.375v21.375h-21.375zM431.36 1701.48h21.375v21.375h-21.375zM452.73 1701.48h21.375v21.375h-21.375zM474.11 1701.48h21.375v21.375h-21.375zM495.48 1701.48h21.375v21.375h-21.375zM516.86 1701.48h21.375v21.375h-21.375zM602.36 1701.48h21.375v21.375h-21.375zM623.73 1701.48h21.375v21.375h-21.375zM645.11 1701.48h21.375v21.375h-21.375zM709.23 1701.48h21.375v21.375h-21.375zM730.61 1701.48h21.375v21.375h-21.375zM751.98 1701.48h21.375v21.375h-21.375zM773.36 1701.48h21.375v21.375h-21.375zM794.73 1701.48h21.375v21.375h-21.375zM901.61 1701.48h21.375v21.375h-21.375zM922.98 1701.48h21.375v21.375h-21.375zM944.36 1701.48h21.375v21.375h-21.375zM965.73 1701.48h21.375v21.375h-21.375zM987.11 1701.48h21.375v21.375h-21.375zM1008.48 1701.48h21.375v21.375h-21.375zM1029.86 1701.48h21.375v21.375h-21.375zM1051.23 1701.48h21.375v21.375h-21.375zM1072.61 1701.48h21.375v21.375h-21.375zM1093.98 1701.48h21.375v21.375h-21.375zM1115.36 1701.48h21.375v21.375h-21.375zM431.36 1722.86h21.375v21.375h-21.375zM452.73 1722.86h21.375v21.375h-21.375zM474.11 1722.86h21.375v21.375h-21.375zM495.48 1722.86h21.375v21.375h-21.375zM516.86 1722.86h21.375v21.375h-21.375zM580.98 1722.86h21.375v21.375h-21.375zM602.36 1722.86h21.375v21.375h-21.375zM623.73 1722.86h21.375v21.375h-21.375zM645.11 1722.86h21.375v21.375h-21.375zM709.23 1722.86h21.375v21.375h-21.375zM730.61 1722.86h21.375v21.375h-21.375zM751.98 1722.86h21.375v21.375h-21.375zM773.36 1722.86h21.375v21.375h-21.375zM794.73 1722.86h21.375v21.375h-21.375zM1008.48 1722.86h21.375v21.375h-21.375zM1029.86 1722.86h21.375v21.375h-21.375zM1051.23 1722.86h21.375v21.375h-21.375zM1072.61 1722.86h21.375v21.375h-21.375zM1093.98 1722.86h21.375v21.375h-21.375zM409.98 1744.23h21.375v21.375h-21.375zM431.36 1744.23h21.375v21.375h-21.375zM452.73 1744.23h21.375v21.375h-21.375zM474.11 1744.23h21.375v21.375h-21.375zM580.98 1744.23h21.375v21.375h-21.375zM602.36 1744.23h21.375v21.375h-21.375zM623.73 1744.23h21.375v21.375h-21.375zM645.11 1744.23h21.375v21.375h-21.375zM666.48 1744.23h21.375v21.375h-21.375zM687.86 1744.23h21.375v21.375h-21.375zM709.23 1744.23h21.375v21.375h-21.375zM730.61 1744.23h21.375v21.375h-21.375zM751.98 1744.23h21.375v21.375h-21.375zM773.36 1744.23h21.375v21.375h-21.375zM794.73 1744.23h21.375v21.375h-21.375zM816.11 1744.23h21.375v21.375h-21.375zM837.48 1744.23h21.375v21.375h-21.375zM858.86 1744.23h21.375v21.375h-21.375zM1029.86 1744.23h21.375v21.375h-21.375zM1051.23 1744.23h21.375v21.375h-21.375zM1072.61 1744.23h21.375v21.375h-21.375zM1093.98 1744.23h21.375v21.375h-21.375zM1179.48 1744.23h21.375v21.375h-21.375zM1200.86 1744.23h21.375v21.375h-21.375zM388.61 1765.61h21.375v21.375h-21.375zM409.98 1765.61h21.375v21.375h-21.375zM431.36 1765.61h21.375v21.375h-21.375zM452.73 1765.61h21.375v21.375h-21.375zM474.11 1765.61h21.375v21.375h-21.375zM602.36 1765.61h21.375v21.375h-21.375zM623.73 1765.61h21.375v21.375h-21.375zM645.11 1765.61h21.375v21.375h-21.375zM666.48 1765.61h21.375v21.375h-21.375zM687.86 1765.61h21.375v21.375h-21.375zM709.23 1765.61h21.375v21.375h-21.375zM730.61 1765.61h21.375v21.375h-21.375zM751.98 1765.61h21.375v21.375h-21.375zM773.36 1765.61h21.375v21.375h-21.375zM794.73 1765.61h21.375v21.375h-21.375zM816.11 1765.61h21.375v21.375h-21.375zM837.48 1765.61h21.375v21.375h-21.375zM858.86 1765.61h21.375v21.375h-21.375zM880.23 1765.61h21.375v21.375h-21.375zM1158.11 1765.61h21.375v21.375h-21.375zM1179.48 1765.61h21.375v21.375h-21.375zM1200.86 1765.61h21.375v21.375h-21.375zM1222.23 1765.61h21.375v21.375h-21.375zM260.36 1786.98h21.375v21.375h-21.375zM388.61 1786.98h21.375v21.375h-21.375zM409.98 1786.98h21.375v21.375h-21.375zM431.36 1786.98h21.375v21.375h-21.375zM452.73 1786.98h21.375v21.375h-21.375zM474.11 1786.98h21.375v21.375h-21.375zM580.98 1786.98h21.375v21.375h-21.375zM602.36 1786.98h21.375v21.375h-21.375zM623.73 1786.98h21.375v21.375h-21.375zM645.11 1786.98h21.375v21.375h-21.375zM666.48 1786.98h21.375v21.375h-21.375zM687.86 1786.98h21.375v21.375h-21.375zM709.23 1786.98h21.375v21.375h-21.375zM730.61 1786.98h21.375v21.375h-21.375zM751.98 1786.98h21.375v21.375h-21.375zM773.36 1786.98h21.375v21.375h-21.375zM794.73 1786.98h21.375v21.375h-21.375zM816.11 1786.98h21.375v21.375h-21.375zM837.48 1786.98h21.375v21.375h-21.375zM858.86 1786.98h21.375v21.375h-21.375zM880.23 1786.98h21.375v21.375h-21.375zM987.11 1786.98h21.375v21.375h-21.375zM1008.48 1786.98h21.375v21.375h-21.375zM1136.73 1786.98h21.375v21.375h-21.375zM1158.11 1786.98h21.375v21.375h-21.375zM1179.48 1786.98h21.375v21.375h-21.375zM1200.86 1786.98h21.375v21.375h-21.375zM1222.23 1786.98h21.375v21.375h-21.375zM260.36 1808.36h21.375v21.375h-21.375zM409.98 1808.36h21.375v21.375h-21.375zM431.36 1808.36h21.375v21.375h-21.375zM452.73 1808.36h21.375v21.375h-21.375zM474.11 1808.36h21.375v21.375h-21.375zM580.98 1808.36h21.375v21.375h-21.375zM602.36 1808.36h21.375v21.375h-21.375zM623.73 1808.36h21.375v21.375h-21.375zM645.11 1808.36h21.375v21.375h-21.375zM666.48 1808.36h21.375v21.375h-21.375zM687.86 1808.36h21.375v21.375h-21.375zM709.23 1808.36h21.375v21.375h-21.375zM730.61 1808.36h21.375v21.375h-21.375zM751.98 1808.36h21.375v21.375h-21.375zM773.36 1808.36h21.375v21.375h-21.375zM794.73 1808.36h21.375v21.375h-21.375zM816.11 1808.36h21.375v21.375h-21.375zM837.48 1808.36h21.375v21.375h-21.375zM858.86 1808.36h21.375v21.375h-21.375zM880.23 1808.36h21.375v21.375h-21.375zM965.73 1808.36h21.375v21.375h-21.375zM987.11 1808.36h21.375v21.375h-21.375zM1008.48 1808.36h21.375v21.375h-21.375zM1029.86 1808.36h21.375v21.375h-21.375zM1093.98 1808.36h21.375v21.375h-21.375zM1115.36 1808.36h21.375v21.375h-21.375zM1136.73 1808.36h21.375v21.375h-21.375zM1158.11 1808.36h21.375v21.375h-21.375zM1179.48 1808.36h21.375v21.375h-21.375zM1200.86 1808.36h21.375v21.375h-21.375zM1222.23 1808.36h21.375v21.375h-21.375zM238.98 1829.73h21.375v21.375h-21.375zM260.36 1829.73h21.375v21.375h-21.375zM345.86 1829.73h21.375v21.375h-21.375zM367.23 1829.73h21.375v21.375h-21.375zM431.36 1829.73h21.375v21.375h-21.375zM452.73 1829.73h21.375v21.375h-21.375zM474.11 1829.73h21.375v21.375h-21.375zM559.61 1829.73h21.375v21.375h-21.375zM580.98 1829.73h21.375v21.375h-21.375zM602.36 1829.73h21.375v21.375h-21.375zM645.11 1829.73h21.375v21.375h-21.375zM666.48 1829.73h21.375v21.375h-21.375zM687.86 1829.73h21.375v21.375h-21.375zM709.23 1829.73h21.375v21.375h-21.375zM730.61 1829.73h21.375v21.375h-21.375zM751.98 1829.73h21.375v21.375h-21.375zM773.36 1829.73h21.375v21.375h-21.375zM794.73 1829.73h21.375v21.375h-21.375zM816.11 1829.73h21.375v21.375h-21.375zM837.48 1829.73h21.375v21.375h-21.375zM858.86 1829.73h21.375v21.375h-21.375zM880.23 1829.73h21.375v21.375h-21.375zM944.36 1829.73h21.375v21.375h-21.375zM965.73 1829.73h21.375v21.375h-21.375zM987.11 1829.73h21.375v21.375h-21.375zM1008.48 1829.73h21.375v21.375h-21.375zM1029.86 1829.73h21.375v21.375h-21.375zM1051.23 1829.73h21.375v21.375h-21.375zM1072.61 1829.73h21.375v21.375h-21.375zM1093.98 1829.73h21.375v21.375h-21.375zM1115.36 1829.73h21.375v21.375h-21.375zM1136.73 1829.73h21.375v21.375h-21.375zM1158.11 1829.73h21.375v21.375h-21.375zM1179.48 1829.73h21.375v21.375h-21.375zM1200.86 1829.73h21.375v21.375h-21.375zM1222.23 1829.73h21.375v21.375h-21.375zM238.98 1851.11h21.375v21.375h-21.375zM260.36 1851.11h21.375v21.375h-21.375zM324.48 1851.11h21.375v21.375h-21.375zM345.86 1851.11h21.375v21.375h-21.375zM367.23 1851.11h21.375v21.375h-21.375zM388.61 1851.11h21.375v21.375h-21.375zM409.98 1851.11h21.375v21.375h-21.375zM431.36 1851.11h21.375v21.375h-21.375zM452.73 1851.11h21.375v21.375h-21.375zM474.11 1851.11h21.375v21.375h-21.375zM495.48 1851.11h21.375v21.375h-21.375zM559.61 1851.11h21.375v21.375h-21.375zM580.98 1851.11h21.375v21.375h-21.375zM602.36 1851.11h21.375v21.375h-21.375zM623.73 1851.11h21.375v21.375h-21.375zM645.11 1851.11h21.375v21.375h-21.375zM666.48 1851.11h21.375v21.375h-21.375zM687.86 1851.11h21.375v21.375h-21.375zM709.23 1851.11h21.375v21.375h-21.375zM730.61 1851.11h21.375v21.375h-21.375zM751.98 1851.11h21.375v21.375h-21.375zM773.36 1851.11h21.375v21.375h-21.375zM794.73 1851.11h21.375v21.375h-21.375zM858.86 1851.11h21.375v21.375h-21.375zM880.23 1851.11h21.375v21.375h-21.375zM901.61 1851.11h21.375v21.375h-21.375zM944.36 1851.11h21.375v21.375h-21.375zM965.73 1851.11h21.375v21.375h-21.375zM987.11 1851.11h21.375v21.375h-21.375zM1008.48 1851.11h21.375v21.375h-21.375zM1029.86 1851.11h21.375v21.375h-21.375zM1051.23 1851.11h21.375v21.375h-21.375zM1072.61 1851.11h21.375v21.375h-21.375zM1093.98 1851.11h21.375v21.375h-21.375zM1115.36 1851.11h21.375v21.375h-21.375zM1136.73 1851.11h21.375v21.375h-21.375zM303.11 1872.48h21.375v21.375h-21.375zM324.48 1872.48h21.375v21.375h-21.375zM345.86 1872.48h21.375v21.375h-21.375zM367.23 1872.48h21.375v21.375h-21.375zM388.61 1872.48h21.375v21.375h-21.375zM409.98 1872.48h21.375v21.375h-21.375zM431.36 1872.48h21.375v21.375h-21.375zM452.73 1872.48h21.375v21.375h-21.375zM474.11 1872.48h21.375v21.375h-21.375zM495.48 1872.48h21.375v21.375h-21.375zM516.86 1872.48h21.375v21.375h-21.375zM538.23 1872.48h21.375v21.375h-21.375zM559.61 1872.48h21.375v21.375h-21.375zM580.98 1872.48h21.375v21.375h-21.375zM602.36 1872.48h21.375v21.375h-21.375zM623.73 1872.48h21.375v21.375h-21.375zM645.11 1872.48h21.375v21.375h-21.375zM687.86 1872.48h21.375v21.375h-21.375zM709.23 1872.48h21.375v21.375h-21.375zM730.61 1872.48h21.375v21.375h-21.375zM751.98 1872.48h21.375v21.375h-21.375zM858.86 1872.48h21.375v21.375h-21.375zM880.23 1872.48h21.375v21.375h-21.375zM901.61 1872.48h21.375v21.375h-21.375zM922.98 1872.48h21.375v21.375h-21.375zM944.36 1872.48h21.375v21.375h-21.375zM965.73 1872.48h21.375v21.375h-21.375zM987.11 1872.48h21.375v21.375h-21.375zM1008.48 1872.48h21.375v21.375h-21.375zM1029.86 1872.48h21.375v21.375h-21.375zM1051.23 1872.48h21.375v21.375h-21.375zM1072.61 1872.48h21.375v21.375h-21.375zM1093.98 1872.48h21.375v21.375h-21.375zM1115.36 1872.48h21.375v21.375h-21.375zM1136.73 1872.48h21.375v21.375h-21.375zM303.11 1893.86h21.375v21.375h-21.375zM324.48 1893.86h21.375v21.375h-21.375zM345.86 1893.86h21.375v21.375h-21.375zM367.23 1893.86h21.375v21.375h-21.375zM388.61 1893.86h21.375v21.375h-21.375zM409.98 1893.86h21.375v21.375h-21.375zM431.36 1893.86h21.375v21.375h-21.375zM452.73 1893.86h21.375v21.375h-21.375zM474.11 1893.86h21.375v21.375h-21.375zM495.48 1893.86h21.375v21.375h-21.375zM516.86 1893.86h21.375v21.375h-21.375zM538.23 1893.86h21.375v21.375h-21.375zM559.61 1893.86h21.375v21.375h-21.375zM580.98 1893.86h21.375v21.375h-21.375zM602.36 1893.86h21.375v21.375h-21.375zM623.73 1893.86h21.375v21.375h-21.375zM645.11 1893.86h21.375v21.375h-21.375zM687.86 1893.86h21.375v21.375h-21.375zM709.23 1893.86h21.375v21.375h-21.375zM730.61 1893.86h21.375v21.375h-21.375zM751.98 1893.86h21.375v21.375h-21.375zM773.36 1893.86h21.375v21.375h-21.375zM794.73 1893.86h21.375v21.375h-21.375zM816.11 1893.86h21.375v21.375h-21.375zM837.48 1893.86h21.375v21.375h-21.375zM858.86 1893.86h21.375v21.375h-21.375zM880.23 1893.86h21.375v21.375h-21.375zM901.61 1893.86h21.375v21.375h-21.375zM922.98 1893.86h21.375v21.375h-21.375zM944.36 1893.86h21.375v21.375h-21.375zM987.11 1893.86h21.375v21.375h-21.375zM1008.48 1893.86h21.375v21.375h-21.375zM1029.86 1893.86h21.375v21.375h-21.375zM1051.23 1893.86h21.375v21.375h-21.375zM1072.61 1893.86h21.375v21.375h-21.375zM1093.98 1893.86h21.375v21.375h-21.375zM1115.36 1893.86h21.375v21.375h-21.375zM1136.73 1893.86h21.375v21.375h-21.375zM345.86 1915.23h21.375v21.375h-21.375zM367.23 1915.23h21.375v21.375h-21.375zM388.61 1915.23h21.375v21.375h-21.375zM409.98 1915.23h21.375v21.375h-21.375zM431.36 1915.23h21.375v21.375h-21.375zM452.73 1915.23h21.375v21.375h-21.375zM474.11 1915.23h21.375v21.375h-21.375zM495.48 1915.23h21.375v21.375h-21.375zM516.86 1915.23h21.375v21.375h-21.375zM538.23 1915.23h21.375v21.375h-21.375zM559.61 1915.23h21.375v21.375h-21.375zM580.98 1915.23h21.375v21.375h-21.375zM602.36 1915.23h21.375v21.375h-21.375zM623.73 1915.23h21.375v21.375h-21.375zM645.11 1915.23h21.375v21.375h-21.375zM666.48 1915.23h21.375v21.375h-21.375zM687.86 1915.23h21.375v21.375h-21.375zM709.23 1915.23h21.375v21.375h-21.375zM730.61 1915.23h21.375v21.375h-21.375zM751.98 1915.23h21.375v21.375h-21.375zM773.36 1915.23h21.375v21.375h-21.375zM794.73 1915.23h21.375v21.375h-21.375zM816.11 1915.23h21.375v21.375h-21.375zM837.48 1915.23h21.375v21.375h-21.375zM858.86 1915.23h21.375v21.375h-21.375zM880.23 1915.23h21.375v21.375h-21.375zM901.61 1915.23h21.375v21.375h-21.375zM922.98 1915.23h21.375v21.375h-21.375zM987.11 1915.23h21.375v21.375h-21.375zM1008.48 1915.23h21.375v21.375h-21.375zM1029.86 1915.23h21.375v21.375h-21.375zM1051.23 1915.23h21.375v21.375h-21.375zM1072.61 1915.23h21.375v21.375h-21.375zM1093.98 1915.23h21.375v21.375h-21.375zM324.48 1936.61h21.375v21.375h-21.375zM345.86 1936.61h21.375v21.375h-21.375zM409.98 1936.61h21.375v21.375h-21.375zM431.36 1936.61h21.375v21.375h-21.375zM452.73 1936.61h21.375v21.375h-21.375zM474.11 1936.61h21.375v21.375h-21.375zM495.48 1936.61h21.375v21.375h-21.375zM516.86 1936.61h21.375v21.375h-21.375zM538.23 1936.61h21.375v21.375h-21.375zM559.61 1936.61h21.375v21.375h-21.375zM580.98 1936.61h21.375v21.375h-21.375zM602.36 1936.61h21.375v21.375h-21.375zM623.73 1936.61h21.375v21.375h-21.375zM645.11 1936.61h21.375v21.375h-21.375zM666.48 1936.61h21.375v21.375h-21.375zM687.86 1936.61h21.375v21.375h-21.375zM709.23 1936.61h21.375v21.375h-21.375zM730.61 1936.61h21.375v21.375h-21.375zM751.98 1936.61h21.375v21.375h-21.375zM773.36 1936.61h21.375v21.375h-21.375zM794.73 1936.61h21.375v21.375h-21.375zM816.11 1936.61h21.375v21.375h-21.375zM837.48 1936.61h21.375v21.375h-21.375zM880.23 1936.61h21.375v21.375h-21.375zM901.61 1936.61h21.375v21.375h-21.375zM922.98 1936.61h21.375v21.375h-21.375zM965.73 1936.61h21.375v21.375h-21.375zM987.11 1936.61h21.375v21.375h-21.375zM1008.48 1936.61h21.375v21.375h-21.375zM1029.86 1936.61h21.375v21.375h-21.375zM1051.23 1936.61h21.375v21.375h-21.375zM1072.61 1936.61h21.375v21.375h-21.375zM1093.98 1936.61h21.375v21.375h-21.375zM281.73 1957.98h21.375v21.375h-21.375zM303.11 1957.98h21.375v21.375h-21.375zM324.48 1957.98h21.375v21.375h-21.375zM345.86 1957.98h21.375v21.375h-21.375zM431.36 1957.98h21.375v21.375h-21.375zM452.73 1957.98h21.375v21.375h-21.375zM474.11 1957.98h21.375v21.375h-21.375zM495.48 1957.98h21.375v21.375h-21.375zM516.86 1957.98h21.375v21.375h-21.375zM538.23 1957.98h21.375v21.375h-21.375zM559.61 1957.98h21.375v21.375h-21.375zM580.98 1957.98h21.375v21.375h-21.375zM602.36 1957.98h21.375v21.375h-21.375zM623.73 1957.98h21.375v21.375h-21.375zM645.11 1957.98h21.375v21.375h-21.375zM666.48 1957.98h21.375v21.375h-21.375zM687.86 1957.98h21.375v21.375h-21.375zM709.23 1957.98h21.375v21.375h-21.375zM730.61 1957.98h21.375v21.375h-21.375zM751.98 1957.98h21.375v21.375h-21.375zM773.36 1957.98h21.375v21.375h-21.375zM794.73 1957.98h21.375v21.375h-21.375zM816.11 1957.98h21.375v21.375h-21.375zM965.73 1957.98h21.375v21.375h-21.375zM987.11 1957.98h21.375v21.375h-21.375zM1008.48 1957.98h21.375v21.375h-21.375zM1029.86 1957.98h21.375v21.375h-21.375zM1051.23 1957.98h21.375v21.375h-21.375zM1115.36 1957.98h21.375v21.375h-21.375zM1136.73 1957.98h21.375v21.375h-21.375zM1158.11 1957.98h21.375v21.375h-21.375zM260.36 1979.36h21.375v21.375h-21.375zM281.73 1979.36h21.375v21.375h-21.375zM623.73 1979.36h21.375v21.375h-21.375zM1008.48 1979.36h21.375v21.375h-21.375zM1029.86 1979.36h21.375v21.375h-21.375zM1051.23 1979.36h21.375v21.375h-21.375zM1115.36 1979.36h21.375v21.375h-21.375zM1136.73 1979.36h21.375v21.375h-21.375z" fill="#f0f921" fill-opacity="0.7"/>
<path d="M987.11 461.73h21.375v21.375h-21.375zM1222.23 654.11h21.375v21.375h-21.375zM1243.61 654.11h21.375v21.375h-21.375zM495.48 675.48h21.375v21.375h-21.375zM474.11 718.23h21.375v21.375h-21.375zM516.86 718.23h21.375v21.375h-21.375zM1029.86 718.23h21.375v21.375h-21.375zM495.48 739.61h21.375v21.375h-21.375zM538.23 739.61h21.375v21.375h-21.375zM944.36 739.61h21.375v21.375h-21.375zM1008.48 739.61h21.375v21.375h-21.375zM516.86 760.98h21.375v21.375h-21.375zM580.98 760.98h21.375v21.375h-21.375zM922.98 760.98h21.375v21.375h-21.375zM1029.86 760.98h21.375v21.375h-21.375zM1072.61 760.98h21.375v21.375h-21.375zM516.86 782.36h21.375v21.375h-21.375zM538.23 782.36h21.375v21.375h-21.375zM794.73 782.36h21.375v21.375h-21.375zM816.11 782.36h21.375v21.375h-21.375zM901.61 782.36h21.375v21.375h-21.375zM922.98 782.36h21.375v21.375h-21.375zM944.36 782.36h21.375v21.375h-21.375zM559.61 803.73h21.375v21.375h-21.375zM816.11 803.73h21.375v21.375h-21.375zM837.48 803.73h21.375v21.375h-21.375zM901.61 803.73h21.375v21.375h-21.375zM922.98 803.73h21.375v21.375h-21.375zM1051.23 803.73h21.375v21.375h-21.375zM816.11 825.11h21.375v21.375h-21.375zM901.61 825.11h21.375v21.375h-21.375zM922.98 825.11h21.375v21.375h-21.375zM1051.23 825.11h21.375v21.375h-21.375zM1072.61 825.11h21.375v21.375h-21.375zM816.11 846.48h21.375v21.375h-21.375zM837.48 846.48h21.375v21.375h-21.375zM901.61 846.48h21.375v21.375h-21.375zM922.98 846.48h21.375v21.375h-21.375zM944.36 846.48h21.375v21.375h-21.375zM1029.86 846.48h21.375v21.375h-21.375zM1051.23 846.48h21.375v21.375h-21.375zM816.11 867.86h21.375v21.375h-21.375zM922.98 867.86h21.375v21.375h-21.375zM944.36 867.86h21.375v21.375h-21.375zM965.73 867.86h21.375v21.375h-21.375zM987.11 867.86h21.375v21.375h-21.375zM1008.48 867.86h21.375v21.375h-21.375zM1029.86 867.86h21.375v21.375h-21.375zM1051.23 867.86h21.375v21.375h-21.375zM1072.61 867.86h21.375v21.375h-21.375zM1093.98 867.86h21.375v21.375h-21.375zM1115.36 867.86h21.375v21.375h-21.375zM1136.73 867.86h21.375v21.375h-21.375zM1158.11 867.86h21.375v21.375h-21.375zM324.48 889.23h21.375v21.375h-21.375zM816.11 889.23h21.375v21.375h-21.375zM922.98 889.23h21.375v21.375h-21.375zM944.36 889.23h21.375v21.375h-21.375zM965.73 889.23h21.375v21.375h-21.375zM987.11 889.23h21.375v21.375h-21.375zM1008.48 889.23h21.375v21.375h-21.375zM1029.86 889.23h21.375v21.375h-21.375zM1072.61 889.23h21.375v21.375h-21.375zM1093.98 889.23h21.375v21.375h-21.375zM1115.36 889.23h21.375v21.375h-21.375zM1136.73 889.23h21.375v21.375h-21.375zM1158.11 889.23h21.375v21.375h-21.375zM303.11 910.61h21.375v21.375h-21.375zM324.48 910.61h21.375v21.375h-21.375zM709.23 910.61h21.375v21.375h-21.375zM965.73 910.61h21.375v21.375h-21.375zM987.11 910.61h21.375v21.375h-21.375zM1008.48 910.61h21.375v21.375h-21.375zM1029.86 910.61h21.375v21.375h-21.375zM1158.11 910.61h21.375v21.375h-21.375zM1179.48 910.61h21.375v21.375h-21.375zM1200.86 910.61h21.375v21.375h-21.375zM303.11 931.98h21.375v21.375h-21.375zM324.48 931.98h21.375v21.375h-21.375zM474.11 931.98h21.375v21.375h-21.375zM495.48 931.98h21.375v21.375h-21.375zM516.86 931.98h21.375v21.375h-21.375zM666.48 931.98h21.375v21.375h-21.375zM687.86 931.98h21.375v21.375h-21.375zM709.23 931.98h21.375v21.375h-21.375zM751.98 931.98h21.375v21.375h-21.375zM1029.86 931.98h21.375v21.375h-21.375zM1072.61 931.98h21.375v21.375h-21.375zM303.11 953.36h21.375v21.375h-21.375zM324.48 953.36h21.375v21.375h-21.375zM452.73 953.36h21.375v21.375h-21.375zM474.11 953.36h21.375v21.375h-21.375zM495.48 953.36h21.375v21.375h-21.375zM516.86 953.36h21.375v21.375h-21.375zM538.23 953.36h21.375v21.375h-21.375zM559.61 953.36h21.375v21.375h-21.375zM580.98 953.36h21.375v21.375h-21.375zM602.36 953.36h21.375v21.375h-21.375zM623.73 953.36h21.375v21.375h-21.375zM645.11 953.36h21.375v21.375h-21.375zM666.48 953.36h21.375v21.375h-21.375zM687.86 953.36h21.375v21.375h-21.375zM709.23 953.36h21.375v21.375h-21.375zM730.61 953.36h21.375v21.375h-21.375zM751.98 953.36h21.375v21.375h-21.375zM1072.61 953.36h21.375v21.375h-21.375zM474.11 974.73h21.375v21.375h-21.375zM495.48 974.73h21.375v21.375h-21.375zM559.61 974.73h21.375v21.375h-21.375zM580.98 974.73h21.375v21.375h-21.375zM602.36 974.73h21.375v21.375h-21.375zM623.73 974.73h21.375v21.375h-21.375zM645.11 974.73h21.375v21.375h-21.375zM666.48 974.73h21.375v21.375h-21.375zM687.86 974.73h21.375v21.375h-21.375zM751.98 974.73h21.375v21.375h-21.375zM773.36 974.73h21.375v21.375h-21.375zM1051.23 974.73h21.375v21.375h-21.375zM1072.61 974.73h21.375v21.375h-21.375zM1158.11 974.73h21.375v21.375h-21.375zM474.11 996.11h21.375v21.375h-21.375zM580.98 996.11h21.375v21.375h-21.375zM602.36 996.11h21.375v21.375h-21.375zM623.73 996.11h21.375v21.375h-21.375zM645.11 996.11h21.375v21.375h-21.375zM666.48 996.11h21.375v21.375h-21.375zM773.36 996.11h21.375v21.375h-21.375zM794.73 996.11h21.375v21.375h-21.375zM858.86 996.11h21.375v21.375h-21.375zM880.23 996.11h21.375v21.375h-21.375zM901.61 996.11h21.375v21.375h-21.375zM922.98 996.11h21.375v21.375h-21.375zM944.36 996.11h21.375v21.375h-21.375zM965.73 996.11h21.375v21.375h-21.375zM1158.11 996.11h21.375v21.375h-21.375zM1179.48 996.11h21.375v21.375h-21.375zM431.36 1017.48h21.375v21.375h-21.375zM580.98 1017.48h21.375v21.375h-21.375zM602.36 1017.48h21.375v21.375h-21.375zM623.73 1017.48h21.375v21.375h-21.375zM645.11 1017.48h21.375v21.375h-21.375zM773.36 1017.48h21.375v21.375h-21.375zM794.73 1017.48h21.375v21.375h-21.375zM816.11 1017.48h21.375v21.375h-21.375zM837.48 1017.48h21.375v21.375h-21.375zM858.86 1017.48h21.375v21.375h-21.375zM880.23 1017.48h21.375v21.375h-21.375zM901.61 1017.48h21.375v21.375h-21.375zM922.98 1017.48h21.375v21.375h-21.375zM944.36 1017.48h21.375v21.375h-21.375zM965.73 1017.48h21.375v21.375h-21.375zM1051.23 1017.48h21.375v21.375h-21.375zM1072.61 1017.48h21.375v21.375h-21.375zM1093.98 1017.48h21.375v21.375h-21.375zM1115.36 1017.48h21.375v21.375h-21.375zM1136.73 1017.48h21.375v21.375h-21.375zM1179.48 1017.48h21.375v21.375h-21.375zM431.36 1038.86h21.375v21.375h-21.375zM452.73 1038.86h21.375v21.375h-21.375zM580.98 1038.86h21.375v21.375h-21.375zM602.36 1038.86h21.375v21.375h-21.375zM623.73 1038.86h21.375v21.375h-21.375zM645.11 1038.86h21.375v21.375h-21.375zM666.48 1038.86h21.375v21.375h-21.375zM773.36 1038.86h21.375v21.375h-21.375zM794.73 1038.86h21.375v21.375h-21.375zM837.48 1038.86h21.375v21.375h-21.375zM880.23 1038.86h21.375v21.375h-21.375zM944.36 1038.86h21.375v21.375h-21.375zM965.73 1038.86h21.375v21.375h-21.375zM987.11 1038.86h21.375v21.375h-21.375zM1008.48 1038.86h21.375v21.375h-21.375zM1029.86 1038.86h21.375v21.375h-21.375zM1051.23 1038.86h21.375v21.375h-21.375zM1072.61 1038.86h21.375v21.375h-21.375zM1115.36 1038.86h21.375v21.375h-21.375zM1136.73 1038.86h21.375v21.375h-21.375zM1158.11 1038.86h21.375v21.375h-21.375zM1179.48 1038.86h21.375v21.375h-21.375zM431.36 1060.23h21.375v21.375h-21.375zM452.73 1060.23h21.375v21.375h-21.375zM474.11 1060.23h21.375v21.375h-21.375zM580.98 1060.23h21.375v21.375h-21.375zM602.36 1060.23h21.375v21.375h-21.375zM623.73 1060.23h21.375v21.375h-21.375zM645.11 1060.23h21.375v21.375h-21.375zM666.48 1060.23h21.375v21.375h-21.375zM751.98 1060.23h21.375v21.375h-21.375zM773.36 1060.23h21.375v21.375h-21.375zM794.73 1060.23h21.375v21.375h-21.375zM816.11 1060.23h21.375v21.375h-21.375zM858.86 1060.23h21.375v21.375h-21.375zM965.73 1060.23h21.375v21.375h-21.375zM987.11 1060.23h21.375v21.375h-21.375zM1008.48 1060.23h21.375v21.375h-21.375zM1029.86 1060.23h21.375v21.375h-21.375zM1051.23 1060.23h21.375v21.375h-21.375zM1072.61 1060.23h21.375v21.375h-21.375zM1093.98 1060.23h21.375v21.375h-21.375zM1115.36 1060.23h21.375v21.375h-21.375zM1136.73 1060.23h21.375v21.375h-21.375zM431.36 1081.61h21.375v21.375h-21.375zM452.73 1081.61h21.375v21.375h-21.375zM474.11 1081.61h21.375v21.375h-21.375zM516.86 1081.61h21.375v21.375h-21.375zM538.23 1081.61h21.375v21.375h-21.375zM559.61 1081.61h21.375v21.375h-21.375zM666.48 1081.61h21.375v21.375h-21.375zM687.86 1081.61h21.375v21.375h-21.375zM709.23 1081.61h21.375v21.375h-21.375zM730.61 1081.61h21.375v21.375h-21.375zM751.98 1081.61h21.375v21.375h-21.375zM773.36 1081.61h21.375v21.375h-21.375zM794.73 1081.61h21.375v21.375h-21.375zM816.11 1081.61h21.375v21.375h-21.375zM837.48 1081.61h21.375v21.375h-21.375zM965.73 1081.61h21.375v21.375h-21.375zM987.11 1081.61h21.375v21.375h-21.375zM1008.48 1081.61h21.375v21.375h-21.375zM1029.86 1081.61h21.375v21.375h-21.375zM1093.98 1081.61h21.375v21.375h-21.375zM1115.36 1081.61h21.375v21.375h-21.375zM1136.73 1081.61h21.375v21.375h-21.375zM474.11 1102.98h21.375v21.375h-21.375zM495.48 1102.98h21.375v21.375h-21.375zM516.86 1102.98h21.375v21.375h-21.375zM538.23 1102.98h21.375v21.375h-21.375zM559.61 1102.98h21.375v21.375h-21.375zM687.86 1102.98h21.375v21.375h-21.375zM709.23 1102.98h21.375v21.375h-21.375zM730.61 1102.98h21.375v21.375h-21.375zM751.98 1102.98h21.375v21.375h-21.375zM816.11 1102.98h21.375v21.375h-21.375zM837.48 1102.98h21.375v21.375h-21.375zM965.73 1102.98h21.375v21.375h-21.375zM987.11 1102.98h21.375v21.375h-21.375zM1008.48 1102.98h21.375v21.375h-21.375zM1115.36 1102.98h21.375v21.375h-21.375zM1158.11 1102.98h21.375v21.375h-21.375zM1329.11 1102.98h21.375v21.375h-21.375zM431.36 1124.36h21.375v21.375h-21.375zM452.73 1124.36h21.375v21.375h-21.375zM474.11 1124.36h21.375v21.375h-21.375zM495.48 1124.36h21.375v21.375h-21.375zM538.23 1124.36h21.375v21.375h-21.375zM709.23 1124.36h21.375v21.375h-21.375zM730.61 1124.36h21.375v21.375h-21.375zM837.48 1124.36h21.375v21.375h-21.375zM858.86 1124.36h21.375v21.375h-21.375zM965.73 1124.36h21.375v21.375h-21.375zM987.11 1124.36h21.375v21.375h-21.375zM1115.36 1124.36h21.375v21.375h-21.375zM1136.73 1124.36h21.375v21.375h-21.375zM1158.11 1124.36h21.375v21.375h-21.375zM1179.48 1124.36h21.375v21.375h-21.375zM1243.61 1124.36h21.375v21.375h-21.375zM1286.36 1124.36h21.375v21.375h-21.375zM1307.73 1124.36h21.375v21.375h-21.375zM1329.11 1124.36h21.375v21.375h-21.375zM1350.48 1124.36h21.375v21.375h-21.375zM452.73 1145.73h21.375v21.375h-21.375zM474.11 1145.73h21.375v21.375h-21.375zM495.48 1145.73h21.375v21.375h-21.375zM516.86 1145.73h21.375v21.375h-21.375zM538.23 1145.73h21.375v21.375h-21.375zM559.61 1145.73h21.375v21.375h-21.375zM709.23 1145.73h21.375v21.375h-21.375zM837.48 1145.73h21.375v21.375h-21.375zM858.86 1145.73h21.375v21.375h-21.375zM944.36 1145.73h21.375v21.375h-21.375zM965.73 1145.73h21.375v21.375h-21.375zM987.11 1145.73h21.375v21.375h-21.375zM1136.73 1145.73h21.375v21.375h-21.375zM1158.11 1145.73h21.375v21.375h-21.375zM1179.48 1145.73h21.375v21.375h-21.375zM1264.98 1145.73h21.375v21.375h-21.375zM1286.36 1145.73h21.375v21.375h-21.375zM1307.73 1145.73h21.375v21.375h-21.375zM1329.11 1145.73h21.375v21.375h-21.375zM1350.48 1145.73h21.375v21.375h-21.375zM516.86 1167.11h21.375v21.375h-21.375zM538.23 1167.11h21.375v21.375h-21.375zM559.61 1167.11h21.375v21.375h-21.375zM709.23 1167.11h21.375v21.375h-21.375zM730.61 1167.11h21.375v21.375h-21.375zM837.48 1167.11h21.375v21.375h-21.375zM858.86 1167.11h21.375v21.375h-21.375zM965.73 1167.11h21.375v21.375h-21.375zM987.11 1167.11h21.375v21.375h-21.375zM1008.48 1167.11h21.375v21.375h-21.375zM1222.23 1167.11h21.375v21.375h-21.375zM1264.98 1167.11h21.375v21.375h-21.375zM1371.86 1167.11h21.375v21.375h-21.375zM538.23 1188.48h21.375v21.375h-21.375zM559.61 1188.48h21.375v21.375h-21.375zM709.23 1188.48h21.375v21.375h-21.375zM730.61 1188.48h21.375v21.375h-21.375zM837.48 1188.48h21.375v21.375h-21.375zM965.73 1188.48h21.375v21.375h-21.375zM987.11 1188.48h21.375v21.375h-21.375zM1008.48 1188.48h21.375v21.375h-21.375zM1158.11 1188.48h21.375v21.375h-21.375zM1179.48 1188.48h21.375v21.375h-21.375zM1200.86 1188.48h21.375v21.375h-21.375zM1222.23 1188.48h21.375v21.375h-21.375zM1371.86 1188.48h21.375v21.375h-21.375zM538.23 1209.86h21.375v21.375h-21.375zM559.61 1209.86h21.375v21.375h-21.375zM580.98 1209.86h21.375v21.375h-21.375zM709.23 1209.86h21.375v21.375h-21.375zM837.48 1209.86h21.375v21.375h-21.375zM965.73 1209.86h21.375v21.375h-21.375zM987.11 1209.86h21.375v21.375h-21.375zM1158.11 1209.86h21.375v21.375h-21.375zM1222.23 1209.86h21.375v21.375h-21.375zM1243.61 1209.86h21.375v21.375h-21.375zM1264.98 1209.86h21.375v21.375h-21.375zM538.23 1231.23h21.375v21.375h-21.375zM559.61 1231.23h21.375v21.375h-21.375zM965.73 1231.23h21.375v21.375h-21.375zM987.11 1231.23h21.375v21.375h-21.375zM1158.11 1231.23h21.375v21.375h-21.375zM1179.48 1231.23h21.375v21.375h-21.375zM1222.23 1231.23h21.375v21.375h-21.375zM1350.48 1231.23h21.375v21.375h-21.375zM538.23 1252.61h21.375v21.375h-21.375zM559.61 1252.61h21.375v21.375h-21.375zM1136.73 1252.61h21.375v21.375h-21.375zM1158.11 1252.61h21.375v21.375h-21.375zM1179.48 1252.61h21.375v21.375h-21.375zM1286.36 1252.61h21.375v21.375h-21.375zM1307.73 1252.61h21.375v21.375h-21.375zM538.23 1273.98h21.375v21.375h-21.375zM559.61 1273.98h21.375v21.375h-21.375zM580.98 1273.98h21.375v21.375h-21.375zM730.61 1273.98h21.375v21.375h-21.375zM1115.36 1273.98h21.375v21.375h-21.375zM1136.73 1273.98h21.375v21.375h-21.375zM1158.11 1273.98h21.375v21.375h-21.375zM1264.98 1273.98h21.375v21.375h-21.375zM1286.36 1273.98h21.375v21.375h-21.375zM538.23 1295.36h21.375v21.375h-21.375zM559.61 1295.36h21.375v21.375h-21.375zM730.61 1295.36h21.375v21.375h-21.375zM751.98 1295.36h21.375v21.375h-21.375zM773.36 1295.36h21.375v21.375h-21.375zM794.73 1295.36h21.375v21.375h-21.375zM1093.98 1295.36h21.375v21.375h-21.375zM1115.36 1295.36h21.375v21.375h-21.375zM1136.73 1295.36h21.375v21.375h-21.375zM538.23 1316.73h21.375v21.375h-21.375zM559.61 1316.73h21.375v21.375h-21.375zM730.61 1316.73h21.375v21.375h-21.375zM751.98 1316.73h21.375v21.375h-21.375zM1072.61 1316.73h21.375v21.375h-21.375zM1093.98 1316.73h21.375v21.375h-21.375zM1115.36 1316.73h21.375v21.375h-21.375zM559.61 1338.11h21.375v21.375h-21.375zM580.98 1338.11h21.375v21.375h-21.375zM730.61 1338.11h21.375v21.375h-21.375zM751.98 1338.11h21.375v21.375h-21.375zM858.86 1338.11h21.375v21.375h-21.375zM880.23 1338.11h21.375v21.375h-21.375zM901.61 1338.11h21.375v21.375h-21.375zM922.98 1338.11h21.375v21.375h-21.375zM1029.86 1338.11h21.375v21.375h-21.375zM1051.23 1338.11h21.375v21.375h-21.375zM1072.61 1338.11h21.375v21.375h-21.375zM1093.98 1338.11h21.375v21.375h-21.375zM1115.36 1338.11h21.375v21.375h-21.375zM1136.73 1338.11h21.375v21.375h-21.375zM559.61 1359.48h21.375v21.375h-21.375zM580.98 1359.48h21.375v21.375h-21.375zM709.23 1359.48h21.375v21.375h-21.375zM730.61 1359.48h21.375v21.375h-21.375zM751.98 1359.48h21.375v21.375h-21.375zM858.86 1359.48h21.375v21.375h-21.375zM880.23 1359.48h21.375v21.375h-21.375zM901.61 1359.48h21.375v21.375h-21.375zM922.98 1359.48h21.375v21.375h-21.375zM944.36 1359.48h21.375v21.375h-21.375zM1029.86 1359.48h21.375v21.375h-21.375zM1072.61 1359.48h21.375v21.375h-21.375zM1093.98 1359.48h21.375v21.375h-21.375zM1115.36 1359.48h21.375v21.375h-21.375zM1136.73 1359.48h21.375v21.375h-21.375zM1158.11 1359.48h21.375v21.375h-21.375zM1243.61 1359.48h21.375v21.375h-21.375zM1264.98 1359.48h21.375v21.375h-21.375zM1286.36 1359.48h21.375v21.375h-21.375zM559.61 1380.86h21.375v21.375h-21.375zM580.98 1380.86h21.375v21.375h-21.375zM602.36 1380.86h21.375v21.375h-21.375zM730.61 1380.86h21.375v21.375h-21.375zM880.23 1380.86h21.375v21.375h-21.375zM901.61 1380.86h21.375v21.375h-21.375zM922.98 1380.86h21.375v21.375h-21.375zM944.36 1380.86h21.375v21.375h-21.375zM1051.23 1380.86h21.375v21.375h-21.375zM1093.98 1380.86h21.375v21.375h-21.375zM1115.36 1380.86h21.375v21.375h-21.375zM1136.73 1380.86h21.375v21.375h-21.375zM1158.11 1380.86h21.375v21.375h-21.375zM1200.86 1380.86h21.375v21.375h-21.375zM1222.23 1380.86h21.375v21.375h-21.375zM1243.61 1380.86h21.375v21.375h-21.375zM1264.98 1380.86h21.375v21.375h-21.375zM1286.36 1380.86h21.375v21.375h-21.375zM559.61 1402.23h21.375v21.375h-21.375zM580.98 1402.23h21.375v21.375h-21.375zM901.61 1402.23h21.375v21.375h-21.375zM922.98 1402.23h21.375v21.375h-21.375zM1051.23 1402.23h21.375v21.375h-21.375zM1072.61 1402.23h21.375v21.375h-21.375zM1093.98 1402.23h21.375v21.375h-21.375zM1158.11 1402.23h21.375v21.375h-21.375zM1179.48 1402.23h21.375v21.375h-21.375zM1200.86 1402.23h21.375v21.375h-21.375zM1243.61 1402.23h21.375v21.375h-21.375zM1286.36 1402.23h21.375v21.375h-21.375zM1307.73 1402.23h21.375v21.375h-21.375zM773.36 1423.61h21.375v21.375h-21.375zM901.61 1423.61h21.375v21.375h-21.375zM922.98 1423.61h21.375v21.375h-21.375zM1051.23 1423.61h21.375v21.375h-21.375zM1072.61 1423.61h21.375v21.375h-21.375zM1179.48 1423.61h21.375v21.375h-21.375zM1200.86 1423.61h21.375v21.375h-21.375zM1222.23 1423.61h21.375v21.375h-21.375zM773.36 1444.98h21.375v21.375h-21.375zM794.73 1444.98h21.375v21.375h-21.375zM901.61 1444.98h21.375v21.375h-21.375zM922.98 1444.98h21.375v21.375h-21.375zM944.36 1444.98h21.375v21.375h-21.375zM1051.23 1444.98h21.375v21.375h-21.375zM1179.48 1444.98h21.375v21.375h-21.375zM1200.86 1444.98h21.375v21.375h-21.375zM580.98 1466.36h21.375v21.375h-21.375zM773.36 1466.36h21.375v21.375h-21.375zM794.73 1466.36h21.375v21.375h-21.375zM901.61 1466.36h21.375v21.375h-21.375zM922.98 1466.36h21.375v21.375h-21.375zM944.36 1466.36h21.375v21.375h-21.375zM965.73 1466.36h21.375v21.375h-21.375zM987.11 1466.36h21.375v21.375h-21.375zM1008.48 1466.36h21.375v21.375h-21.375zM1029.86 1466.36h21.375v21.375h-21.375zM1051.23 1466.36h21.375v21.375h-21.375zM1179.48 1466.36h21.375v21.375h-21.375zM1200.86 1466.36h21.375v21.375h-21.375zM580.98 1487.73h21.375v21.375h-21.375zM602.36 1487.73h21.375v21.375h-21.375zM794.73 1487.73h21.375v21.375h-21.375zM816.11 1487.73h21.375v21.375h-21.375zM837.48 1487.73h21.375v21.375h-21.375zM858.86 1487.73h21.375v21.375h-21.375zM880.23 1487.73h21.375v21.375h-21.375zM901.61 1487.73h21.375v21.375h-21.375zM922.98 1487.73h21.375v21.375h-21.375zM944.36 1487.73h21.375v21.375h-21.375zM965.73 1487.73h21.375v21.375h-21.375zM987.11 1487.73h21.375v21.375h-21.375zM1008.48 1487.73h21.375v21.375h-21.375zM1029.86 1487.73h21.375v21.375h-21.375zM1051.23 1487.73h21.375v21.375h-21.375zM1072.61 1487.73h21.375v21.375h-21.375zM1179.48 1487.73h21.375v21.375h-21.375zM1200.86 1487.73h21.375v21.375h-21.375zM1222.23 1487.73h21.375v21.375h-21.375zM580.98 1509.11h21.375v21.375h-21.375zM602.36 1509.11h21.375v21.375h-21.375zM623.73 1509.11h21.375v21.375h-21.375zM816.11 1509.11h21.375v21.375h-21.375zM837.48 1509.11h21.375v21.375h-21.375zM858.86 1509.11h21.375v21.375h-21.375zM880.23 1509.11h21.375v21.375h-21.375zM901.61 1509.11h21.375v21.375h-21.375zM922.98 1509.11h21.375v21.375h-21.375zM944.36 1509.11h21.375v21.375h-21.375zM965.73 1509.11h21.375v21.375h-21.375zM987.11 1509.11h21.375v21.375h-21.375zM1008.48 1509.11h21.375v21.375h-21.375zM1029.86 1509.11h21.375v21.375h-21.375zM1051.23 1509.11h21.375v21.375h-21.375zM1072.61 1509.11h21.375v21.375h-21.375zM1093.98 1509.11h21.375v21.375h-21.375zM1115.36 1509.11h21.375v21.375h-21.375zM1136.73 1509.11h21.375v21.375h-21.375zM1158.11 1509.11h21.375v21.375h-21.375zM1179.48 1509.11h21.375v21.375h-21.375zM1200.86 1509.11h21.375v21.375h-21.375zM1222.23 1509.11h21.375v21.375h-21.375zM1243.61 1509.11h21.375v21.375h-21.375zM1264.98 1509.11h21.375v21.375h-21.375zM1286.36 1509.11h21.375v21.375h-21.375zM816.11 1530.48h21.375v21.375h-21.375zM837.48 1530.48h21.375v21.375h-21.375zM858.86 1530.48h21.375v21.375h-21.375zM880.23 1530.48h21.375v21.375h-21.375zM901.61 1530.48h21.375v21.375h-21.375zM922.98 1530.48h21.375v21.375h-21.375zM944.36 1530.48h21.375v21.375h-21.375zM965.73 1530.48h21.375v21.375h-21.375zM987.11 1530.48h21.375v21.375h-21.375zM1008.48 1530.48h21.375v21.375h-21.375zM1029.86 1530.48h21.375v21.375h-21.375zM1051.23 1530.48h21.375v21.375h-21.375zM1072.61 1530.48h21.375v21.375h-21.375zM1093.98 1530.48h21.375v21.375h-21.375zM1115.36 1530.48h21.375v21.375h-21.375zM1136.73 1530.48h21.375v21.375h-21.375zM1158.11 1530.48h21.375v21.375h-21.375zM1179.48 1530.48h21.375v21.375h-21.375zM1200.86 1530.48h21.375v21.375h-21.375zM1222.23 1530.48h21.375v21.375h-21.375zM1243.61 1530.48h21.375v21.375h-21.375zM1264.98 1530.48h21.375v21.375h-21.375zM1286.36 1530.48h21.375v21.375h-21.375zM816.11 1551.86h21.375v21.375h-21.375zM837.48 1551.86h21.375v21.375h-21.375zM858.86 1551.86h21.375v21.375h-21.375zM880.23 1551.86h21.375v21.375h-21.375zM901.61 1551.86h21.375v21.375h-21.375zM922.98 1551.86h21.375v21.375h-21.375zM944.36 1551.86h21.375v21.375h-21.375zM965.73 1551.86h21.375v21.375h-21.375zM987.11 1551.86h21.375v21.375h-21.375zM1008.48 1551.86h21.375v21.375h-21.375zM1029.86 1551.86h21.375v21.375h-21.375zM1051.23 1551.86h21.375v21.375h-21.375zM1072.61 1551.86h21.375v21.375h-21.375zM1093.98 1551.86h21.375v21.375h-21.375zM1115.36 1551.86h21.375v21.375h-21.375zM1136.73 1551.86h21.375v21.375h-21.375zM1158.11 1551.86h21.375v21.375h-21.375zM1179.48 1551.86h21.375v21.375h-21.375zM1200.86 1551.86h21.375v21.375h-21.375zM1222.23 1551.86h21.375v21.375h-21.375zM1286.36 1551.86h21.375v21.375h-21.375zM1307.73 1551.86h21.375v21.375h-21.375zM1329.11 1551.86h21.375v21.375h-21.375zM816.11 1573.23h21.375v21.375h-21.375zM837.48 1573.23h21.375v21.375h-21.375zM858.86 1573.23h21.375v21.375h-21.375zM880.23 1573.23h21.375v21.375h-21.375zM901.61 1573.23h21.375v21.375h-21.375zM922.98 1573.23h21.375v21.375h-21.375zM944.36 1573.23h21.375v21.375h-21.375zM1008.48 1573.23h21.375v21.375h-21.375zM1029.86 1573.23h21.375v21.375h-21.375zM1051.23 1573.23h21.375v21.375h-21.375zM1072.61 1573.23h21.375v21.375h-21.375zM1093.98 1573.23h21.375v21.375h-21.375zM1115.36 1573.23h21.375v21.375h-21.375zM1136.73 1573.23h21.375v21.375h-21.375zM1158.11 1573.23h21.375v21.375h-21.375zM1179.48 1573.23h21.375v21.375h-21.375zM1200.86 1573.23h21.375v21.375h-21.375zM1222.23 1573.23h21.375v21.375h-21.375zM1243.61 1573.23h21.375v21.375h-21.375zM1264.98 1573.23h21.375v21.375h-21.375zM1286.36 1573.23h21.375v21.375h-21.375zM1307.73 1573.23h21.375v21.375h-21.375zM816.11 1594.61h21.375v21.375h-21.375zM837.48 1594.61h21.375v21.375h-21.375zM858.86 1594.61h21.375v21.375h-21.375zM880.23 1594.61h21.375v21.375h-21.375zM901.61 1594.61h21.375v21.375h-21.375zM1029.86 1594.61h21.375v21.375h-21.375zM1051.23 1594.61h21.375v21.375h-21.375zM1072.61 1594.61h21.375v21.375h-21.375zM1093.98 1594.61h21.375v21.375h-21.375zM1115.36 1594.61h21.375v21.375h-21.375zM1222.23 1594.61h21.375v21.375h-21.375zM1243.61 1594.61h21.375v21.375h-21.375zM1264.98 1594.61h21.375v21.375h-21.375zM623.73 1615.98h21.375v21.375h-21.375zM794.73 1615.98h21.375v21.375h-21.375zM816.11 1615.98h21.375v21.375h-21.375zM837.48 1615.98h21.375v21.375h-21.375zM858.86 1615.98h21.375v21.375h-21.375zM880.23 1615.98h21.375v21.375h-21.375zM1029.86 1615.98h21.375v21.375h-21.375zM1051.23 1615.98h21.375v21.375h-21.375zM1072.61 1615.98h21.375v21.375h-21.375zM1093.98 1615.98h21.375v21.375h-21.375zM1243.61 1615.98h21.375v21.375h-21.375zM1264.98 1615.98h21.375v21.375h-21.375zM1286.36 1615.98h21.375v21.375h-21.375zM580.98 1637.36h21.375v21.375h-21.375zM602.36 1637.36h21.375v21.375h-21.375zM623.73 1637.36h21.375v21.375h-21.375zM645.11 1637.36h21.375v21.375h-21.375zM794.73 1637.36h21.375v21.375h-21.375zM816.11 1637.36h21.375v21.375h-21.375zM837.48 1637.36h21.375v21.375h-21.375zM858.86 1637.36h21.375v21.375h-21.375zM1029.86 1637.36h21.375v21.375h-21.375zM1051.23 1637.36h21.375v21.375h-21.375zM1072.61 1637.36h21.375v21.375h-21.375zM1243.61 1637.36h21.375v21.375h-21.375zM1264.98 1637.36h21.375v21.375h-21.375zM1286.36 1637.36h21.375v21.375h-21.375zM559.61 1658.73h21.375v21.375h-21.375zM580.98 1658.73h21.375v21.375h-21.375zM602.36 1658.73h21.375v21.375h-21.375zM623.73 1658.73h21.375v21.375h-21.375zM645.11 1658.73h21.375v21.375h-21.375zM666.48 1658.73h21.375v21.375h-21.375zM816.11 1658.73h21.375v21.375h-21.375zM837.48 1658.73h21.375v21.375h-21.375zM858.86 1658.73h21.375v21.375h-21.375zM1029.86 1658.73h21.375v21.375h-21.375zM1243.61 1658.73h21.375v21.375h-21.375zM1264.98 1658.73h21.375v21.375h-21.375zM1286.36 1658.73h21.375v21.375h-21.375zM559.61 1680.11h21.375v21.375h-21.375zM580.98 1680.11h21.375v21.375h-21.375zM602.36 1680.11h21.375v21.375h-21.375zM666.48 1680.11h21.375v21.375h-21.375zM687.86 1680.11h21.375v21.375h-21.375zM816.11 1680.11h21.375v21.375h-21.375zM837.48 1680.11h21.375v21.375h-21.375zM858.86 1680.11h21.375v21.375h-21.375zM1243.61 1680.11h21.375v21.375h-21.375zM388.61 1701.48h21.375v21.375h-21.375zM409.98 1701.48h21.375v21.375h-21.375zM538.23 1701.48h21.375v21.375h-21.375zM559.61 1701.48h21.375v21.375h-21.375zM580.98 1701.48h21.375v21.375h-21.375zM666.48 1701.48h21.375v21.375h-21.375zM687.86 1701.48h21.375v21.375h-21.375zM816.11 1701.48h21.375v21.375h-21.375zM837.48 1701.48h21.375v21.375h-21.375zM858.86 1701.48h21.375v21.375h-21.375zM880.23 1701.48h21.375v21.375h-21.375zM1136.73 1701.48h21.375v21.375h-21.375zM1179.48 1701.48h21.375v21.375h-21.375zM1200.86 1701.48h21.375v21.375h-21.375zM1222.23 1701.48h21.375v21.375h-21.375zM1243.61 1701.48h21.375v21.375h-21.375zM1264.98 1701.48h21.375v21.375h-21.375zM367.23 1722.86h21.375v21.375h-21.375zM388.61 1722.86h21.375v21.375h-21.375zM409.98 1722.86h21.375v21.375h-21.375zM538.23 1722.86h21.375v21.375h-21.375zM559.61 1722.86h21.375v21.375h-21.375zM666.48 1722.86h21.375v21.375h-21.375zM816.11 1722.86h21.375v21.375h-21.375zM837.48 1722.86h21.375v21.375h-21.375zM858.86 1722.86h21.375v21.375h-21.375zM880.23 1722.86h21.375v21.375h-21.375zM901.61 1722.86h21.375v21.375h-21.375zM922.98 1722.86h21.375v21.375h-21.375zM944.36 1722.86h21.375v21.375h-21.375zM965.73 1722.86h21.375v21.375h-21.375zM987.11 1722.86h21.375v21.375h-21.375zM1115.36 1722.86h21.375v21.375h-21.375zM1136.73 1722.86h21.375v21.375h-21.375zM1158.11 1722.86h21.375v21.375h-21.375zM1179.48 1722.86h21.375v21.375h-21.375zM1200.86 1722.86h21.375v21.375h-21.375zM1222.23 1722.86h21.375v21.375h-21.375zM1243.61 1722.86h21.375v21.375h-21.375zM1264.98 1722.86h21.375v21.375h-21.375zM345.86 1744.23h21.375v21.375h-21.375zM367.23 1744.23h21.375v21.375h-21.375zM388.61 1744.23h21.375v21.375h-21.375zM495.48 1744.23h21.375v21.375h-21.375zM516.86 1744.23h21.375v21.375h-21.375zM538.23 1744.23h21.375v21.375h-21.375zM559.61 1744.23h21.375v21.375h-21.375zM880.23 1744.23h21.375v21.375h-21.375zM901.61 1744.23h21.375v21.375h-21.375zM922.98 1744.23h21.375v21.375h-21.375zM944.36 1744.23h21.375v21.375h-21.375zM965.73 1744.23h21.375v21.375h-21.375zM987.11 1744.23h21.375v21.375h-21.375zM1008.48 1744.23h21.375v21.375h-21.375zM1115.36 1744.23h21.375v21.375h-21.375zM1136.73 1744.23h21.375v21.375h-21.375zM1158.11 1744.23h21.375v21.375h-21.375zM1222.23 1744.23h21.375v21.375h-21.375zM1243.61 1744.23h21.375v21.375h-21.375zM1264.98 1744.23h21.375v21.375h-21.375zM281.73 1765.61h21.375v21.375h-21.375zM303.11 1765.61h21.375v21.375h-21.375zM324.48 1765.61h21.375v21.375h-21.375zM345.86 1765.61h21.375v21.375h-21.375zM367.23 1765.61h21.375v21.375h-21.375zM495.48 1765.61h21.375v21.375h-21.375zM516.86 1765.61h21.375v21.375h-21.375zM538.23 1765.61h21.375v21.375h-21.375zM559.61 1765.61h21.375v21.375h-21.375zM580.98 1765.61h21.375v21.375h-21.375zM901.61 1765.61h21.375v21.375h-21.375zM922.98 1765.61h21.375v21.375h-21.375zM944.36 1765.61h21.375v21.375h-21.375zM965.73 1765.61h21.375v21.375h-21.375zM987.11 1765.61h21.375v21.375h-21.375zM1008.48 1765.61h21.375v21.375h-21.375zM1029.86 1765.61h21.375v21.375h-21.375zM1051.23 1765.61h21.375v21.375h-21.375zM1072.61 1765.61h21.375v21.375h-21.375zM1093.98 1765.61h21.375v21.375h-21.375zM1115.36 1765.61h21.375v21.375h-21.375zM1136.73 1765.61h21.375v21.375h-21.375zM1243.61 1765.61h21.375v21.375h-21.375zM1264.98 1765.61h21.375v21.375h-21.375zM281.73 1786.98h21.375v21.375h-21.375zM303.11 1786.98h21.375v21.375h-21.375zM324.48 1786.98h21.375v21.375h-21.375zM345.86 1786.98h21.375v21.375h-21.375zM367.23 1786.98h21.375v21.375h-21.375zM495.48 1786.98h21.375v21.375h-21.375zM516.86 1786.98h21.375v21.375h-21.375zM538.23 1786.98h21.375v21.375h-21.375zM559.61 1786.98h21.375v21.375h-21.375zM901.61 1786.98h21.375v21.375h-21.375zM922.98 1786.98h21.375v21.375h-21.375zM944.36 1786.98h21.375v21.375h-21.375zM965.73 1786.98h21.375v21.375h-21.375zM1029.86 1786.98h21.375v21.375h-21.375zM1051.23 1786.98h21.375v21.375h-21.375zM1072.61 1786.98h21.375v21.375h-21.375zM1093.98 1786.98h21.375v21.375h-21.375zM1115.36 1786.98h21.375v21.375h-21.375zM1264.98 1786.98h21.375v21.375h-21.375zM281.73 1808.36h21.375v21.375h-21.375zM303.11 1808.36h21.375v21.375h-21.375zM324.48 1808.36h21.375v21.375h-21.375zM345.86 1808.36h21.375v21.375h-21.375zM367.23 1808.36h21.375v21.375h-21.375zM388.61 1808.36h21.375v21.375h-21.375zM495.48 1808.36h21.375v21.375h-21.375zM516.86 1808.36h21.375v21.375h-21.375zM538.23 1808.36h21.375v21.375h-21.375zM559.61 1808.36h21.375v21.375h-21.375zM901.61 1808.36h21.375v21.375h-21.375zM922.98 1808.36h21.375v21.375h-21.375zM944.36 1808.36h21.375v21.375h-21.375zM1051.23 1808.36h21.375v21.375h-21.375zM1072.61 1808.36h21.375v21.375h-21.375zM1243.61 1808.36h21.375v21.375h-21.375zM1286.36 1808.36h21.375v21.375h-21.375zM281.73 1829.73h21.375v21.375h-21.375zM303.11 1829.73h21.375v21.375h-21.375zM324.48 1829.73h21.375v21.375h-21.375zM388.61 1829.73h21.375v21.375h-21.375zM495.48 1829.73h21.375v21.375h-21.375zM516.86 1829.73h21.375v21.375h-21.375zM538.23 1829.73h21.375v21.375h-21.375zM901.61 1829.73h21.375v21.375h-21.375zM922.98 1829.73h21.375v21.375h-21.375zM1243.61 1829.73h21.375v21.375h-21.375zM281.73 1851.11h21.375v21.375h-21.375zM303.11 1851.11h21.375v21.375h-21.375zM516.86 1851.11h21.375v21.375h-21.375zM538.23 1851.11h21.375v21.375h-21.375zM816.11 1851.11h21.375v21.375h-21.375zM837.48 1851.11h21.375v21.375h-21.375zM922.98 1851.11h21.375v21.375h-21.375zM1158.11 1851.11h21.375v21.375h-21.375zM1179.48 1851.11h21.375v21.375h-21.375zM1200.86 1851.11h21.375v21.375h-21.375zM1222.23 1851.11h21.375v21.375h-21.375zM1243.61 1851.11h21.375v21.375h-21.375zM238.98 1872.48h21.375v21.375h-21.375zM260.36 1872.48h21.375v21.375h-21.375zM281.73 1872.48h21.375v21.375h-21.375zM666.48 1872.48h21.375v21.375h-21.375zM773.36 1872.48h21.375v21.375h-21.375zM794.73 1872.48h21.375v21.375h-21.375zM816.11 1872.48h21.375v21.375h-21.375zM837.48 1872.48h21.375v21.375h-21.375zM1158.11 1872.48h21.375v21.375h-21.375zM1179.48 1872.48h21.375v21.375h-21.375zM1200.86 1872.48h21.375v21.375h-21.375zM1222.23 1872.48h21.375v21.375h-21.375zM1264.98 1872.48h21.375v21.375h-21.375zM217.6 1893.86h21.375v21.375h-21.375zM238.98 1893.86h21.375v21.375h-21.375zM260.36 1893.86h21.375v21.375h-21.375zM281.73 1893.86h21.375v21.375h-21.375zM666.48 1893.86h21.375v21.375h-21.375zM965.73 1893.86h21.375v21.375h-21.375zM1158.11 1893.86h21.375v21.375h-21.375zM1179.48 1893.86h21.375v21.375h-21.375zM1200.86 1893.86h21.375v21.375h-21.375zM1243.61 1893.86h21.375v21.375h-21.375zM196.23 1915.23h21.375v21.375h-21.375zM217.6 1915.23h21.375v21.375h-21.375zM238.98 1915.23h21.375v21.375h-21.375zM260.36 1915.23h21.375v21.375h-21.375zM281.73 1915.23h21.375v21.375h-21.375zM303.11 1915.23h21.375v21.375h-21.375zM944.36 1915.23h21.375v21.375h-21.375zM965.73 1915.23h21.375v21.375h-21.375zM1115.36 1915.23h21.375v21.375h-21.375zM1136.73 1915.23h21.375v21.375h-21.375zM1158.11 1915.23h21.375v21.375h-21.375zM1179.48 1915.23h21.375v21.375h-21.375zM217.6 1936.61h21.375v21.375h-21.375zM238.98 1936.61h21.375v21.375h-21.375zM260.36 1936.61h21.375v21.375h-21.375zM281.73 1936.61h21.375v21.375h-21.375zM303.11 1936.61h21.375v21.375h-21.375zM367.23 1936.61h21.375v21.375h-21.375zM388.61 1936.61h21.375v21.375h-21.375zM944.36 1936.61h21.375v21.375h-21.375zM1115.36 1936.61h21.375v21.375h-21.375zM1136.73 1936.61h21.375v21.375h-21.375zM1158.11 1936.61h21.375v21.375h-21.375zM196.23 1957.98h21.375v21.375h-21.375zM217.6 1957.98h21.375v21.375h-21.375zM238.98 1957.98h21.375v21.375h-21.375zM260.36 1957.98h21.375v21.375h-21.375zM367.23 1957.98h21.375v21.375h-21.375zM922.98 1957.98h21.375v21.375h-21.375zM944.36 1957.98h21.375v21.375h-21.375zM1072.61 1957.98h21.375v21.375h-21.375zM1093.98 1957.98h21.375v21.375h-21.375zM217.6 1979.36h21.375v21.375h-21.375zM238.98 1979.36h21.375v21.375h-21.375zM730.61 1979.36h21.375v21.375h-21.375zM751.98 1979.36h21.375v21.375h-21.375zM773.36 1979.36h21.375v21.375h-21.375zM794.73 1979.36h21.375v21.375h-21.375zM1072.61 1979.36h21.375v21.375h-21.375zM751.98 2000.73h21.375v21.375h-21.375zM773.36 2000.73h21.375v21.375h-21.375z" fill="#fca636" fill-opacity="0.7"/>
<path d="M987.11 504.48h21.375v21.375h-21.375zM1051.23 504.48h21.375v21.375h-21.375zM367.23 525.86h21.375v21.375h-21.375zM987.11 525.86h21.375v21.375h-21.375zM1008.48 547.23h21.375v21.375h-21.375zM345.86 568.61h21.375v21.375h-21.375zM987.11 568.61h21.375v21.375h-21.375zM1072.61 568.61h21.375v21.375h-21.375zM324.48 589.98h21.375v21.375h-21.375zM345.86 589.98h21.375v21.375h-21.375zM367.23 589.98h21.375v21.375h-21.375zM880.23 589.98h21.375v21.375h-21.375zM1008.48 589.98h21.375v21.375h-21.375zM1072.61 589.98h21.375v21.375h-21.375zM345.86 611.36h21.375v21.375h-21.375zM944.36 611.36h21.375v21.375h-21.375zM1008.48 611.36h21.375v21.375h-21.375zM1029.86 611.36h21.375v21.375h-21.375zM1051.23 611.36h21.375v21.375h-21.375zM1072.61 611.36h21.375v21.375h-21.375zM345.86 632.73h21.375v21.375h-21.375zM367.23 632.73h21.375v21.375h-21.375zM1051.23 632.73h21.375v21.375h-21.375zM1072.61 632.73h21.375v21.375h-21.375zM1158.11 632.73h21.375v21.375h-21.375zM944.36 654.11h21.375v21.375h-21.375zM1051.23 654.11h21.375v21.375h-21.375zM345.86 675.48h21.375v21.375h-21.375zM965.73 675.48h21.375v21.375h-21.375zM1136.73 675.48h21.375v21.375h-21.375zM1222.23 675.48h21.375v21.375h-21.375zM1243.61 675.48h21.375v21.375h-21.375zM1264.98 675.48h21.375v21.375h-21.375zM1286.36 675.48h21.375v21.375h-21.375zM1307.73 675.48h21.375v21.375h-21.375zM1329.11 675.48h21.375v21.375h-21.375zM367.23 696.86h21.375v21.375h-21.375zM1029.86 696.86h21.375v21.375h-21.375zM1072.61 696.86h21.375v21.375h-21.375zM1093.98 696.86h21.375v21.375h-21.375zM1115.36 696.86h21.375v21.375h-21.375zM1136.73 696.86h21.375v21.375h-21.375zM1179.48 696.86h21.375v21.375h-21.375zM1307.73 696.86h21.375v21.375h-21.375zM1329.11 696.86h21.375v21.375h-21.375zM303.11 718.23h21.375v21.375h-21.375zM345.86 718.23h21.375v21.375h-21.375zM431.36 718.23h21.375v21.375h-21.375zM452.73 718.23h21.375v21.375h-21.375zM858.86 718.23h21.375v21.375h-21.375zM1072.61 718.23h21.375v21.375h-21.375zM1115.36 718.23h21.375v21.375h-21.375zM1136.73 718.23h21.375v21.375h-21.375zM1158.11 718.23h21.375v21.375h-21.375zM1179.48 718.23h21.375v21.375h-21.375zM1200.86 718.23h21.375v21.375h-21.375zM1307.73 718.23h21.375v21.375h-21.375zM1329.11 718.23h21.375v21.375h-21.375zM324.48 739.61h21.375v21.375h-21.375zM345.86 739.61h21.375v21.375h-21.375zM837.48 739.61h21.375v21.375h-21.375zM858.86 739.61h21.375v21.375h-21.375zM1115.36 739.61h21.375v21.375h-21.375zM1136.73 739.61h21.375v21.375h-21.375zM1158.11 739.61h21.375v21.375h-21.375zM1179.48 739.61h21.375v21.375h-21.375zM1200.86 739.61h21.375v21.375h-21.375zM1222.23 739.61h21.375v21.375h-21.375zM1243.61 739.61h21.375v21.375h-21.375zM1264.98 739.61h21.375v21.375h-21.375zM1286.36 739.61h21.375v21.375h-21.375zM1307.73 739.61h21.375v21.375h-21.375zM367.23 760.98h21.375v21.375h-21.375zM452.73 760.98h21.375v21.375h-21.375zM816.11 760.98h21.375v21.375h-21.375zM837.48 760.98h21.375v21.375h-21.375zM880.23 760.98h21.375v21.375h-21.375zM1093.98 760.98h21.375v21.375h-21.375zM1158.11 760.98h21.375v21.375h-21.375zM1179.48 760.98h21.375v21.375h-21.375zM1200.86 760.98h21.375v21.375h-21.375zM1222.23 760.98h21.375v21.375h-21.375zM1243.61 760.98h21.375v21.375h-21.375zM1286.36 760.98h21.375v21.375h-21.375zM1307.73 760.98h21.375v21.375h-21.375zM1329.11 760.98h21.375v21.375h-21.375zM303.11 782.36h21.375v21.375h-21.375zM324.48 782.36h21.375v21.375h-21.375zM837.48 782.36h21.375v21.375h-21.375zM858.86 782.36h21.375v21.375h-21.375zM880.23 782.36h21.375v21.375h-21.375zM1093.98 782.36h21.375v21.375h-21.375zM1158.11 782.36h21.375v21.375h-21.375zM1179.48 782.36h21.375v21.375h-21.375zM1200.86 782.36h21.375v21.375h-21.375zM1222.23 782.36h21.375v21.375h-21.375zM1243.61 782.36h21.375v21.375h-21.375zM1286.36 782.36h21.375v21.375h-21.375zM303.11 803.73h21.375v21.375h-21.375zM367.23 803.73h21.375v21.375h-21.375zM516.86 803.73h21.375v21.375h-21.375zM1072.61 803.73h21.375v21.375h-21.375zM1093.98 803.73h21.375v21.375h-21.375zM1115.36 803.73h21.375v21.375h-21.375zM1200.86 803.73h21.375v21.375h-21.375zM1222.23 803.73h21.375v21.375h-21.375zM1243.61 803.73h21.375v21.375h-21.375zM1264.98 803.73h21.375v21.375h-21.375zM1286.36 803.73h21.375v21.375h-21.375zM324.48 825.11h21.375v21.375h-21.375zM516.86 825.11h21.375v21.375h-21.375zM580.98 825.11h21.375v21.375h-21.375zM623.73 825.11h21.375v21.375h-21.375zM1158.11 825.11h21.375v21.375h-21.375zM1179.48 825.11h21.375v21.375h-21.375zM1200.86 825.11h21.375v21.375h-21.375zM1222.23 825.11h21.375v21.375h-21.375zM281.73 846.48h21.375v21.375h-21.375zM431.36 846.48h21.375v21.375h-21.375zM580.98 846.48h21.375v21.375h-21.375zM602.36 846.48h21.375v21.375h-21.375zM858.86 846.48h21.375v21.375h-21.375zM1072.61 846.48h21.375v21.375h-21.375zM1093.98 846.48h21.375v21.375h-21.375zM1136.73 846.48h21.375v21.375h-21.375zM1158.11 846.48h21.375v21.375h-21.375zM1243.61 846.48h21.375v21.375h-21.375zM1307.73 846.48h21.375v21.375h-21.375zM303.11 867.86h21.375v21.375h-21.375zM409.98 867.86h21.375v21.375h-21.375zM431.36 867.86h21.375v21.375h-21.375zM559.61 867.86h21.375v21.375h-21.375zM580.98 867.86h21.375v21.375h-21.375zM602.36 867.86h21.375v21.375h-21.375zM623.73 867.86h21.375v21.375h-21.375zM837.48 867.86h21.375v21.375h-21.375zM858.86 867.86h21.375v21.375h-21.375zM880.23 867.86h21.375v21.375h-21.375zM901.61 867.86h21.375v21.375h-21.375zM1243.61 867.86h21.375v21.375h-21.375zM1264.98 867.86h21.375v21.375h-21.375zM1286.36 867.86h21.375v21.375h-21.375zM1307.73 867.86h21.375v21.375h-21.375zM345.86 889.23h21.375v21.375h-21.375zM388.61 889.23h21.375v21.375h-21.375zM474.11 889.23h21.375v21.375h-21.375zM516.86 889.23h21.375v21.375h-21.375zM559.61 889.23h21.375v21.375h-21.375zM580.98 889.23h21.375v21.375h-21.375zM602.36 889.23h21.375v21.375h-21.375zM623.73 889.23h21.375v21.375h-21.375zM837.48 889.23h21.375v21.375h-21.375zM858.86 889.23h21.375v21.375h-21.375zM880.23 889.23h21.375v21.375h-21.375zM901.61 889.23h21.375v21.375h-21.375zM1200.86 889.23h21.375v21.375h-21.375zM1222.23 889.23h21.375v21.375h-21.375zM1243.61 889.23h21.375v21.375h-21.375zM1286.36 889.23h21.375v21.375h-21.375zM1307.73 889.23h21.375v21.375h-21.375zM1329.11 889.23h21.375v21.375h-21.375zM452.73 910.61h21.375v21.375h-21.375zM474.11 910.61h21.375v21.375h-21.375zM580.98 910.61h21.375v21.375h-21.375zM602.36 910.61h21.375v21.375h-21.375zM623.73 910.61h21.375v21.375h-21.375zM645.11 910.61h21.375v21.375h-21.375zM858.86 910.61h21.375v21.375h-21.375zM880.23 910.61h21.375v21.375h-21.375zM901.61 910.61h21.375v21.375h-21.375zM922.98 910.61h21.375v21.375h-21.375zM944.36 910.61h21.375v21.375h-21.375zM1243.61 910.61h21.375v21.375h-21.375zM1264.98 910.61h21.375v21.375h-21.375zM1286.36 910.61h21.375v21.375h-21.375zM1307.73 910.61h21.375v21.375h-21.375zM1329.11 910.61h21.375v21.375h-21.375zM431.36 931.98h21.375v21.375h-21.375zM602.36 931.98h21.375v21.375h-21.375zM623.73 931.98h21.375v21.375h-21.375zM645.11 931.98h21.375v21.375h-21.375zM816.11 931.98h21.375v21.375h-21.375zM901.61 931.98h21.375v21.375h-21.375zM922.98 931.98h21.375v21.375h-21.375zM965.73 931.98h21.375v21.375h-21.375zM987.11 931.98h21.375v21.375h-21.375zM1008.48 931.98h21.375v21.375h-21.375zM1243.61 931.98h21.375v21.375h-21.375zM1264.98 931.98h21.375v21.375h-21.375zM1286.36 931.98h21.375v21.375h-21.375zM1307.73 931.98h21.375v21.375h-21.375zM1329.11 931.98h21.375v21.375h-21.375zM388.61 953.36h21.375v21.375h-21.375zM409.98 953.36h21.375v21.375h-21.375zM431.36 953.36h21.375v21.375h-21.375zM858.86 953.36h21.375v21.375h-21.375zM880.23 953.36h21.375v21.375h-21.375zM901.61 953.36h21.375v21.375h-21.375zM922.98 953.36h21.375v21.375h-21.375zM944.36 953.36h21.375v21.375h-21.375zM965.73 953.36h21.375v21.375h-21.375zM987.11 953.36h21.375v21.375h-21.375zM1243.61 953.36h21.375v21.375h-21.375zM1264.98 953.36h21.375v21.375h-21.375zM1307.73 953.36h21.375v21.375h-21.375zM1329.11 953.36h21.375v21.375h-21.375zM345.86 974.73h21.375v21.375h-21.375zM367.23 974.73h21.375v21.375h-21.375zM409.98 974.73h21.375v21.375h-21.375zM431.36 974.73h21.375v21.375h-21.375zM816.11 974.73h21.375v21.375h-21.375zM880.23 974.73h21.375v21.375h-21.375zM901.61 974.73h21.375v21.375h-21.375zM922.98 974.73h21.375v21.375h-21.375zM944.36 974.73h21.375v21.375h-21.375zM965.73 974.73h21.375v21.375h-21.375zM987.11 974.73h21.375v21.375h-21.375zM1008.48 974.73h21.375v21.375h-21.375zM1222.23 974.73h21.375v21.375h-21.375zM1286.36 974.73h21.375v21.375h-21.375zM1307.73 974.73h21.375v21.375h-21.375zM1329.11 974.73h21.375v21.375h-21.375zM1350.48 974.73h21.375v21.375h-21.375zM367.23 996.11h21.375v21.375h-21.375zM388.61 996.11h21.375v21.375h-21.375zM409.98 996.11h21.375v21.375h-21.375zM987.11 996.11h21.375v21.375h-21.375zM1008.48 996.11h21.375v21.375h-21.375zM1029.86 996.11h21.375v21.375h-21.375zM1051.23 996.11h21.375v21.375h-21.375zM1243.61 996.11h21.375v21.375h-21.375zM1264.98 996.11h21.375v21.375h-21.375zM1286.36 996.11h21.375v21.375h-21.375zM1307.73 996.11h21.375v21.375h-21.375zM1329.11 996.11h21.375v21.375h-21.375zM1350.48 996.11h21.375v21.375h-21.375zM388.61 1017.48h21.375v21.375h-21.375zM409.98 1017.48h21.375v21.375h-21.375zM1008.48 1017.48h21.375v21.375h-21.375zM1029.86 1017.48h21.375v21.375h-21.375zM1200.86 1017.48h21.375v21.375h-21.375zM1222.23 1017.48h21.375v21.375h-21.375zM1243.61 1017.48h21.375v21.375h-21.375zM1264.98 1017.48h21.375v21.375h-21.375zM1286.36 1017.48h21.375v21.375h-21.375zM1307.73 1017.48h21.375v21.375h-21.375zM1329.11 1017.48h21.375v21.375h-21.375zM1350.48 1017.48h21.375v21.375h-21.375zM409.98 1038.86h21.375v21.375h-21.375zM1200.86 1038.86h21.375v21.375h-21.375zM1222.23 1038.86h21.375v21.375h-21.375zM1243.61 1038.86h21.375v21.375h-21.375zM1264.98 1038.86h21.375v21.375h-21.375zM1286.36 1038.86h21.375v21.375h-21.375zM1307.73 1038.86h21.375v21.375h-21.375zM1329.11 1038.86h21.375v21.375h-21.375zM388.61 1060.23h21.375v21.375h-21.375zM409.98 1060.23h21.375v21.375h-21.375zM1158.11 1060.23h21.375v21.375h-21.375zM1179.48 1060.23h21.375v21.375h-21.375zM1200.86 1060.23h21.375v21.375h-21.375zM1222.23 1060.23h21.375v21.375h-21.375zM1243.61 1060.23h21.375v21.375h-21.375zM1264.98 1060.23h21.375v21.375h-21.375zM1286.36 1060.23h21.375v21.375h-21.375zM1307.73 1060.23h21.375v21.375h-21.375zM1350.48 1060.23h21.375v21.375h-21.375zM409.98 1081.61h21.375v21.375h-21.375zM1158.11 1081.61h21.375v21.375h-21.375zM1179.48 1081.61h21.375v21.375h-21.375zM1243.61 1081.61h21.375v21.375h-21.375zM1264.98 1081.61h21.375v21.375h-21.375zM1329.11 1081.61h21.375v21.375h-21.375zM1350.48 1081.61h21.375v21.375h-21.375zM409.98 1102.98h21.375v21.375h-21.375zM1179.48 1102.98h21.375v21.375h-21.375zM1200.86 1102.98h21.375v21.375h-21.375zM1222.23 1102.98h21.375v21.375h-21.375zM1243.61 1102.98h21.375v21.375h-21.375zM1264.98 1102.98h21.375v21.375h-21.375zM1307.73 1102.98h21.375v21.375h-21.375zM452.73 1167.11h21.375v21.375h-21.375zM474.11 1167.11h21.375v21.375h-21.375zM495.48 1167.11h21.375v21.375h-21.375zM452.73 1188.48h21.375v21.375h-21.375zM474.11 1188.48h21.375v21.375h-21.375zM495.48 1188.48h21.375v21.375h-21.375zM516.86 1188.48h21.375v21.375h-21.375zM452.73 1209.86h21.375v21.375h-21.375zM474.11 1209.86h21.375v21.375h-21.375zM495.48 1209.86h21.375v21.375h-21.375zM516.86 1209.86h21.375v21.375h-21.375zM474.11 1231.23h21.375v21.375h-21.375zM495.48 1231.23h21.375v21.375h-21.375zM516.86 1231.23h21.375v21.375h-21.375zM1200.86 1231.23h21.375v21.375h-21.375zM495.48 1252.61h21.375v21.375h-21.375zM516.86 1252.61h21.375v21.375h-21.375zM516.86 1273.98h21.375v21.375h-21.375zM1243.61 1273.98h21.375v21.375h-21.375zM516.86 1295.36h21.375v21.375h-21.375zM1158.11 1295.36h21.375v21.375h-21.375zM1179.48 1295.36h21.375v21.375h-21.375zM1200.86 1295.36h21.375v21.375h-21.375zM1222.23 1295.36h21.375v21.375h-21.375zM1264.98 1295.36h21.375v21.375h-21.375zM516.86 1316.73h21.375v21.375h-21.375zM1136.73 1316.73h21.375v21.375h-21.375zM1158.11 1316.73h21.375v21.375h-21.375zM1179.48 1316.73h21.375v21.375h-21.375zM1200.86 1316.73h21.375v21.375h-21.375zM1264.98 1316.73h21.375v21.375h-21.375zM1286.36 1316.73h21.375v21.375h-21.375zM1179.48 1338.11h21.375v21.375h-21.375zM1222.23 1338.11h21.375v21.375h-21.375zM1243.61 1338.11h21.375v21.375h-21.375zM1264.98 1338.11h21.375v21.375h-21.375zM1286.36 1338.11h21.375v21.375h-21.375zM1179.48 1359.48h21.375v21.375h-21.375zM1200.86 1359.48h21.375v21.375h-21.375zM1222.23 1359.48h21.375v21.375h-21.375zM1264.98 1551.86h21.375v21.375h-21.375zM1286.36 1594.61h21.375v21.375h-21.375zM1307.73 1594.61h21.375v21.375h-21.375zM1307.73 1615.98h21.375v21.375h-21.375zM1307.73 1658.73h21.375v21.375h-21.375zM1286.36 1680.11h21.375v21.375h-21.375zM1286.36 1701.48h21.375v21.375h-21.375zM1286.36 1722.86h21.375v21.375h-21.375zM324.48 1744.23h21.375v21.375h-21.375zM1286.36 1744.23h21.375v21.375h-21.375zM1200.86 1915.23h21.375v21.375h-21.375zM196.23 1936.61h21.375v21.375h-21.375z" fill="#e16462" fill-opacity="0.7"/>
<path d="M666.48 1273.98h21.375v21.375h-21.375zM730.61 1530.48h21.375v21.375h-21.375z" fill="#7f7f7f" fill-opacity="0.7"/>
<path d="M987.11 461.73H1008.48M987.11 483.11H1008.48M987.11 504.48H1008.48M1051.23 504.48H1072.61M367.23 525.86H388.61M987.11 525.86H1008.48M1051.23 525.86H1072.61M367.23 547.23H388.61M987.11 547.23H1029.86M345.86 568.61H367.23M987.11 568.61H1029.86M1072.61 568.61H1093.98M324.48 589.98H388.61M880.23 589.98H901.61M987.11 589.98H1029.86M1072.61 589.98H1093.98M324.48 611.36H388.61M880.23 611.36H901.61M944.36 611.36H965.73M1008.48 611.36H1093.98M345.86 632.73H388.61M944.36 632.73H965.73M1008.48 632.73H1093.98M1158.11 632.73H1179.48M345.86 654.11H388.61M944.36 654.11H965.73M1051.23 654.11H1093.98M1158.11 654.11H1179.48M1222.23 654.11H1264.98M345.86 675.48H367.23M495.48 675.48H516.86M944.36 675.48H987.11M1051.23 675.48H1072.61M1136.73 675.48H1158.11M1222.23 675.48H1350.48M345.86 696.86H388.61M495.48 696.86H516.86M965.73 696.86H987.11M1029.86 696.86H1051.23M1072.61 696.86H1158.11M1179.48 696.86H1200.86M1222.23 696.86H1350.48M303.11 718.23H324.48M345.86 718.23H388.61M431.36 718.23H495.48M516.86 718.23H538.23M858.86 718.23H880.23M1029.86 718.23H1051.23M1072.61 718.23H1222.23M1307.73 718.23H1350.48M303.11 739.61H367.23M431.36 739.61H559.61M837.48 739.61H880.23M944.36 739.61H965.73M1008.48 739.61H1051.23M1072.61 739.61H1093.98M1115.36 739.61H1350.48M324.48 760.98H388.61M452.73 760.98H474.11M495.48 760.98H559.61M580.98 760.98H602.36M816.11 760.98H901.61M922.98 760.98H965.73M987.11 760.98H1051.23M1072.61 760.98H1350.48M303.11 782.36H345.86M367.23 782.36H388.61M452.73 782.36H474.11M516.86 782.36H559.61M580.98 782.36H602.36M794.73 782.36H1051.23M1072.61 782.36H1115.36M1158.11 782.36H1264.98M1286.36 782.36H1350.48M303.11 803.73H345.86M367.23 803.73H388.61M516.86 803.73H580.98M794.73 803.73H1136.73M1158.11 803.73H1307.73M303.11 825.11H345.86M367.23 825.11H388.61M516.86 825.11H538.23M559.61 825.11H602.36M623.73 825.11H645.11M816.11 825.11H858.86M901.61 825.11H1136.73M1158.11 825.11H1307.73M281.73 846.48H303.11M324.48 846.48H345.86M431.36 846.48H452.73M516.86 846.48H538.23M580.98 846.48H645.11M816.11 846.48H880.23M901.61 846.48H1115.36M1136.73 846.48H1264.98M1307.73 846.48H1329.11M281.73 867.86H324.48M409.98 867.86H452.73M559.61 867.86H645.11M816.11 867.86H1179.48M1243.61 867.86H1329.11M303.11 889.23H367.23M388.61 889.23H452.73M474.11 889.23H495.48M516.86 889.23H538.23M559.61 889.23H645.11M816.11 889.23H1179.48M1200.86 889.23H1350.48M303.11 910.61H367.23M388.61 910.61H409.98M452.73 910.61H495.48M516.86 910.61H538.23M559.61 910.61H666.48M709.23 910.61H730.61M816.11 910.61H1051.23M1072.61 910.61H1350.48M303.11 931.98H345.86M431.36 931.98H538.23M580.98 931.98H730.61M751.98 931.98H773.36M816.11 931.98H837.48M858.86 931.98H1051.23M1072.61 931.98H1115.36M1136.73 931.98H1222.23M1243.61 931.98H1350.48M303.11 953.36H345.86M388.61 953.36H773.36M816.11 953.36H837.48M858.86 953.36H1051.23M1072.61 953.36H1179.48M1243.61 953.36H1350.48M303.11 974.73H794.73M816.11 974.73H837.48M858.86 974.73H1029.86M1051.23 974.73H1179.48M1222.23 974.73H1371.86M345.86 996.11H452.73M474.11 996.11H837.48M858.86 996.11H1200.86M1222.23 996.11H1371.86M367.23 1017.48H452.73M474.11 1017.48H1371.86M388.61 1038.86H1371.86M388.61 1060.23H1371.86M388.61 1081.61H1371.86M409.98 1102.98H1286.36M1307.73 1102.98H1371.86M409.98 1124.36H1371.86M431.36 1145.73H1200.86M1243.61 1145.73H1371.86M452.73 1167.11H1200.86M1222.23 1167.11H1243.61M1264.98 1167.11H1393.23M452.73 1188.48H1243.61M1264.98 1188.48H1393.23M452.73 1209.86H1393.23M452.73 1231.23H1371.86M474.11 1252.61H1243.61M1286.36 1252.61H1371.86M495.48 1273.98H1200.86M1243.61 1273.98H1329.11M516.86 1295.36H1307.73M516.86 1316.73H1243.61M1264.98 1316.73H1307.73M516.86 1338.11H1307.73M559.61 1359.48H1307.73M559.61 1380.86H1307.73M559.61 1402.23H1329.11M559.61 1423.61H1329.11M559.61 1444.98H1307.73M580.98 1466.36H1307.73M580.98 1487.73H1307.73M580.98 1509.11H1307.73M580.98 1530.48H1307.73M602.36 1551.86H1350.48M645.11 1573.23H1350.48M645.11 1594.61H1329.11M623.73 1615.98H1329.11M580.98 1637.36H1329.11M559.61 1658.73H1329.11M559.61 1680.11H1329.11M388.61 1701.48H1307.73M367.23 1722.86H1307.73M324.48 1744.23H1307.73M281.73 1765.61H1307.73M260.36 1786.98H1286.36M260.36 1808.36H1307.73M238.98 1829.73H1264.98M1286.36 1829.73H1307.73M238.98 1851.11H1264.98M238.98 1872.48H1286.36M217.6 1893.86H1286.36M196.23 1915.23H1222.23M1243.61 1915.23H1264.98M196.23 1936.61H1222.23M196.23 1957.98H858.86M880.23 1957.98H1179.48M196.23 1979.36H388.61M431.36 1979.36H837.48M922.98 1979.36H1179.48M217.6 2000.73H303.11M623.73 2000.73H645.11M730.61 2000.73H816.11M1008.48 2000.73H1093.98M1115.36 2000.73H1158.11M751.98 2022.11H794.73M196.23 1915.23V1979.36M217.6 1893.86V2000.73M238.98 1829.73V2000.73M260.36 1786.98V2000.73M281.73 846.48V867.86M281.73 1765.61V2000.73M303.11 718.23V739.61M303.11 782.36V825.11M303.11 846.48V889.23M303.11 910.61V974.73M303.11 1765.61V2000.73M324.48 589.98V611.36M324.48 718.23V760.98M324.48 782.36V846.48M324.48 867.86V974.73M324.48 1744.23V1979.36M345.86 568.61V654.11M345.86 675.48V696.86M345.86 718.23V760.98M345.86 782.36V803.73M345.86 825.11V846.48M345.86 889.23V996.11M345.86 1744.23V1979.36M367.23 525.86V547.23M367.23 568.61V654.11M367.23 675.48V782.36M367.23 803.73V825.11M367.23 889.23V910.61M367.23 974.73V1017.48M367.23 1722.86V1979.36M388.61 525.86V547.23M388.61 589.98V611.36M388.61 632.73V654.11M388.61 696.86V718.23M388.61 760.98V782.36M388.61 803.73V825.11M388.61 889.23V910.61M388.61 953.36V1038.86M388.61 1060.23V1081.61M388.61 1701.48V1979.36M409.98 867.86V910.61M409.98 953.36V1124.36M409.98 1701.48V1957.98M431.36 718.23V739.61M431.36 846.48V889.23M431.36 931.98V1145.73M431.36 1701.48V1979.36M452.73 718.23V739.61M452.73 760.98V782.36M452.73 846.48V889.23M452.73 910.61V996.11M452.73 1017.48V1231.23M452.73 1701.48V1979.36M474.11 718.23V739.61M474.11 760.98V782.36M474.11 889.23V1252.61M474.11 1701.48V1979.36M495.48 675.48V696.86M495.48 718.23V760.98M495.48 889.23V1273.98M495.48 1701.48V1979.36M516.86 675.48V696.86M516.86 718.23V846.48M516.86 889.23V910.61M516.86 931.98V1338.11M516.86 1701.48V1979.36M538.23 718.23V846.48M538.23 889.23V910.61M538.23 931.98V1338.11M538.23 1701.48V1979.36M559.61 739.61V760.98M559.61 782.36V825.11M559.61 867.86V910.61M559.61 953.36V1444.98M559.61 1658.73V1979.36M580.98 760.98V782.36M580.98 803.73V931.98M580.98 953.36V1530.48M580.98 1637.36V1979.36M602.36 760.98V782.36M602.36 825.11V1551.86M602.36 1637.36V1979.36M623.73 825.11V1551.86M623.73 1615.98V2000.73M645.11 825.11V846.48M645.11 867.86V1594.61M645.11 1615.98V2000.73M666.48 910.61V1979.36M687.86 931.98V1979.36M709.23 910.61V1979.36M730.61 910.61V2000.73M751.98 931.98V2022.11M773.36 931.98V2022.11M794.73 782.36V803.73M794.73 974.73V2022.11M816.11 760.98V910.61M816.11 931.98V953.36M816.11 974.73V2000.73M837.48 739.61V910.61M837.48 931.98V953.36M837.48 974.73V996.11M837.48 1017.48V1979.36M858.86 718.23V825.11M858.86 846.48V931.98M858.86 953.36V974.73M858.86 996.11V1957.98M880.23 589.98V611.36M880.23 718.23V803.73M880.23 846.48V931.98M880.23 953.36V1957.98M901.61 589.98V611.36M901.61 760.98V1957.98M922.98 760.98V1979.36M944.36 611.36V632.73M944.36 654.11V675.48M944.36 739.61V1979.36M965.73 611.36V632.73M965.73 654.11V696.86M965.73 739.61V760.98M965.73 782.36V1979.36M987.11 461.73V483.11M987.11 504.48V547.23M987.11 568.61V589.98M987.11 675.48V696.86M987.11 760.98V1979.36M1008.48 461.73V483.11M1008.48 504.48V632.73M1008.48 739.61V2000.73M1029.86 547.23V568.61M1029.86 589.98V632.73M1029.86 696.86V953.36M1029.86 974.73V2000.73M1051.23 504.48V525.86M1051.23 611.36V675.48M1051.23 696.86V739.61M1051.23 760.98V953.36M1051.23 974.73V2000.73M1072.61 504.48V525.86M1072.61 568.61V675.48M1072.61 696.86V739.61M1072.61 760.98V782.36M1072.61 803.73V910.61M1072.61 931.98V2000.73M1093.98 568.61V654.11M1093.98 696.86V739.61M1093.98 760.98V910.61M1093.98 931.98V996.11M1093.98 1017.48V2000.73M1115.36 696.86V825.11M1115.36 846.48V910.61M1115.36 931.98V1145.73M1115.36 1167.11V2000.73M1136.73 675.48V760.98M1136.73 803.73V825.11M1136.73 846.48V2000.73M1158.11 632.73V654.11M1158.11 675.48V803.73M1158.11 825.11V1167.11M1158.11 1188.48V2000.73M1179.48 632.73V654.11M1179.48 696.86V803.73M1179.48 825.11V953.36M1179.48 974.73V1167.11M1179.48 1188.48V1979.36M1200.86 696.86V846.48M1200.86 889.23V931.98M1200.86 996.11V1167.11M1200.86 1188.48V1209.86M1200.86 1231.23V1273.98M1200.86 1295.36V1936.61M1222.23 654.11V696.86M1222.23 718.23V846.48M1222.23 889.23V931.98M1222.23 974.73V996.11M1222.23 1017.48V1081.61M1222.23 1102.98V1124.36M1222.23 1167.11V1252.61M1222.23 1295.36V1936.61M1243.61 654.11V696.86M1243.61 739.61V1145.73M1243.61 1167.11V1252.61M1243.61 1273.98V1316.73M1243.61 1338.11V1915.23M1264.98 654.11V696.86M1264.98 739.61V825.11M1264.98 846.48V974.73M1264.98 996.11V1231.23M1264.98 1273.98V1915.23M1286.36 675.48V696.86M1286.36 739.61V825.11M1286.36 867.86V1231.23M1286.36 1252.61V1829.73M1286.36 1872.48V1893.86M1307.73 675.48V825.11M1307.73 846.48V1081.61M1307.73 1102.98V1295.36M1307.73 1316.73V1765.61M1307.73 1808.36V1829.73M1329.11 675.48V782.36M1329.11 846.48V1273.98M1329.11 1402.23V1423.61M1329.11 1551.86V1637.36M1329.11 1658.73V1680.11M1350.48 675.48V739.61M1350.48 760.98V782.36M1350.48 889.23V1252.61M1350.48 1551.86V1573.23M1371.86 974.73V1038.86M1371.86 1060.23V1102.98M1371.86 1124.36V1252.61M1393.23 1167.11V1209.86" fill="none" stroke="#585858" stroke-width="1.78" stroke-linecap="square"/>
<path d="M323.5 481.7 L356.8 481.7 L358.3 491.9 L367 519.4 L377.1 533.9 L388.7 547 L403.2 557.1 L413.3 568.7 L416.2 583.2 L409 585.2 L397.4 581.7 L385.8 577.4 L371.3 568.7 L358.3 560 L351 549.9 L342.3 532.5 L336.5 518 L333.6 506.4 L327.8 494.8Z" fill="#add8e6" stroke="#585858" stroke-width="1.78" stroke-linejoin="round"/>
<path d="M1399.5 482.5 L1391.2 509.7 L1391.2 526.3 L1387.9 546.1 L1381.3 566 L1369.7 582.6 L1369.7 599.1 L1358.1 615.7 L1351.5 638.9 L1349.8 661.4 L1348.1 691.9 L1353.1 711.8 L1354.1 741.6 L1356.4 748.2 L1351.5 759.8 L1341.5 774.7 L1328.3 786.3 L1308.4 801.2 L1300.1 811.2 L1301.8 817.8 L1321.6 827.7 L1325 841 L1329.9 864.2 L1331.6 890.7 L1336.6 910.5 L1348.1 930.4 L1356.4 947 L1348.1 956.9 L1325 973.5 L1331.6 976.8 L1348.1 971.8 L1364.7 980.1 L1368 990 L1368 1016.5 L1364.7 1029.8 L1348.1 1049.7 L1344.8 1059.6 L1358.1 1069.6 L1366.4 1082.8 L1367 1100 L1366.5 1104.8 L1365.2 1124.7 L1366.5 1139.6 L1362.7 1162 L1369 1173.2 L1378.9 1171.9 L1391.3 1176.9 L1390.1 1184.3 L1373.9 1201.7 L1364 1214.2 L1359 1224.1 L1355.3 1249 L1346.6 1251.4 L1334.2 1256.4 L1330.4 1268.8 L1326.7 1291.2 L1320.5 1298.6 L1319.3 1328.4 L1320.5 1378.1 L1314.3 1410.4 L1315.5 1425.3 L1319.3 1437.8 L1320.5 1485 L1326.7 1517.3 L1321.7 1542.1 L1335.4 1544.6 L1335 1550.4 L1328.5 1571.1 L1323.4 1586.6 L1315.6 1607.3 L1309.1 1622.8 L1313 1638.4 L1315.6 1661.7 L1313 1674.6 L1305.2 1681.1 L1298.8 1688.9 L1298.8 1700.5 L1301.4 1721.2 L1302.7 1744.5 L1292.3 1762.7 L1281.9 1775.6 L1271.6 1795 L1256 1804.1 L1257.3 1824.8 L1253.5 1850.7 L1248.3 1871.4 L1235.3 1884.3 L1219.8 1897.3 L1199.1 1910.2 L1191.3 1915.4 L1175.8 1930.9 L1162.8 1943.9 L1149.9 1956.8 L1137 1967.2 L1126.6 1977.5 L1118.8 1987.9 L1110.5 2002.1 L1109 2011.2 L1138.3 2011.2 L1147.3 1998.3 L1157.7 1985.3 L1168 1969.8 L1178.4 1956.8 L1188.7 1946.5 L1201.7 1938.7 L1214.6 1930.9 L1235.3 1923.2 L1249.6 1918 L1261.2 1897.3 L1276.8 1871.4 L1287.1 1840.3 L1292.3 1824.8 L1305.2 1795 L1310.4 1791.1 L1331.1 1762.7 L1338.9 1739.4 L1354.4 1703.1 L1358.3 1669.4 L1357 1648.7 L1351.8 1630.6 L1344.1 1615.1 L1358.3 1595.7 L1366.1 1565.9 L1364.8 1555.5 L1360.9 1540 L1359 1527.2 L1349 1497.4 L1341.6 1477.5 L1349 1445.2 L1349 1415.4 L1352.8 1365.7 L1350.3 1328.4 L1354 1306.1 L1380.1 1307.3 L1393.8 1268.8 L1402.5 1251.4 L1418.6 1263.9 L1432.8 1288.7 L1432.6 953.6 L1427.7 937 L1432.6 917.2 L1432.6 900.6 L1424.4 894 L1424.4 887.4 L1432.6 880.7 L1432.6 776.4 L1422.7 771.4 L1432.6 754.8 L1432.6 482.5Z" fill="#add8e6" stroke="#585858" stroke-width="1.78" stroke-linejoin="round"/>
<path d="M1432.8 1209.2 L1424.8 1215.4 L1413.7 1216.6 L1398.8 1224.1 L1378.9 1244 L1359 1266.3 L1339.1 1298.6 L1334.2 1316 L1332.9 1333.4 L1337.9 1355.8 L1342.9 1390.6 L1344.1 1427.8 L1339.1 1457.6 L1340.4 1477.5 L1340.4 1502.4 L1349 1547.1 L1349.3 1549 L1338.9 1584 L1332.4 1604.7 L1331.1 1643.6 L1333.7 1674.6 L1329.8 1721.2 L1310.4 1762.7 L1292.3 1780.8 L1279.4 1798.9 L1274.2 1824.8 L1271.6 1850.7 L1261.2 1868.8 L1240.5 1889.5 L1225 1902.5 L1201.7 1923.2 L1188.7 1943.9 L1178.4 1949.1 L1157.7 1954.2 L1142.1 1962 L1129.2 1977.5 L1121.4 1995.7 L1118.8 2011.2" fill="none" stroke="#585858" stroke-width="1.78" stroke-linejoin="round"/>
<path d="M1006.6 814.74L1018.52 835.38L994.68 835.38ZM525 1010.24L536.92 1030.88L513.08 1030.88ZM729.3 1028.74L741.22 1049.38L717.38 1049.38ZM442.2 1094.24L454.12 1114.88L430.28 1114.88ZM920.1 1091.14L932.02 1111.78L908.18 1111.78ZM616.6 1126.84L628.52 1147.48L604.68 1147.48ZM661.3 1139.74L673.22 1160.38L649.38 1160.38ZM786.2 1140.94L798.12 1161.58L774.28 1161.58ZM642.6 1159.24L654.52 1179.88L630.68 1179.88ZM1117.3 1198.84L1129.22 1219.48L1105.38 1219.48ZM799.4 1227.54L811.32 1248.18L787.48 1248.18ZM638.7 1224.54L650.62 1245.18L626.78 1245.18ZM640.8 1234.44L652.72 1255.08L628.88 1255.08ZM648.5 1229.54L660.42 1250.18L636.58 1250.18ZM660.4 1238.84L672.32 1259.48L648.48 1259.48ZM677.3 1263.84L689.22 1284.48L665.38 1284.48ZM675.5 1273.74L687.42 1294.38L663.58 1294.38ZM679.5 1282.04L691.42 1302.68L667.58 1302.68ZM640 1288.04L651.92 1308.68L628.08 1308.68ZM871 1281.44L882.92 1302.08L859.08 1302.08ZM1037.4 1260.24L1049.32 1280.88L1025.48 1280.88ZM1043.1 1256.34L1055.02 1276.98L1031.18 1276.98ZM982.5 1300.84L994.42 1321.48L970.58 1321.48ZM654.6 1337.84L666.52 1358.48L642.68 1358.48ZM853.6 1421.74L865.52 1442.38L841.68 1442.38ZM711.3 1431.54L723.22 1452.18L699.38 1452.18ZM706.6 1442.44L718.52 1463.08L694.68 1463.08ZM1126.4 1453.44L1138.32 1474.08L1114.48 1474.08ZM1293.3 1454.54L1305.22 1475.18L1281.38 1475.18ZM725.5 1515.64L737.42 1536.28L713.58 1536.28ZM750.9 1513.84L762.82 1534.48L738.98 1534.48ZM747 1528.64L758.92 1549.28L735.08 1549.28ZM725.5 1536.34L737.42 1556.98L713.58 1556.98ZM763 1549.34L774.92 1569.98L751.08 1569.98ZM752.7 1557.04L764.62 1577.68L740.78 1577.68ZM676.3 1562.24L688.22 1582.88L664.38 1582.88ZM983.5 1617.14L995.42 1637.78L971.58 1637.78ZM1163.3 1640.14L1175.22 1660.78L1151.38 1660.78ZM946.8 1643.74L958.72 1664.38L934.88 1664.38ZM952.5 1656.74L964.42 1677.38L940.58 1677.38ZM1075.7 1692.44L1087.62 1713.08L1063.78 1713.08ZM758.1 1770.14L770.02 1790.78L746.18 1790.78ZM1188.1 1779.84L1200.02 1800.48L1176.18 1800.48ZM662.8 1791.84L674.72 1812.48L650.88 1812.48ZM857.1 1796.14L869.02 1816.78L845.18 1816.78ZM759.6 1816.24L771.52 1836.88L747.68 1836.88ZM612.1 1846.24L624.02 1866.88L600.18 1866.88ZM611.6 1861.74L623.52 1882.38L599.68 1882.38ZM361.3 1874.14L373.22 1894.78L349.38 1894.78ZM887.4 1886.74L899.32 1907.38L875.48 1907.38ZM1078.9 1889.34L1090.82 1909.98L1066.98 1909.98ZM1079.4 1895.84L1091.32 1916.48L1067.48 1916.48ZM459.7 1906.54L471.62 1927.18L447.78 1927.18ZM544.3 1907.84L556.22 1928.48L532.38 1928.48ZM783.4 1907.24L795.32 1927.88L771.48 1927.88ZM642.4 1929.84L654.32 1950.48L630.48 1950.48ZM1125.48 961.9H1150.52M1138 949.38V974.42M645.98 1156.3H671.02M658.5 1143.78V1168.82M1055.58 1136.6H1080.62M1068.1 1124.08V1149.12M897.78 1195.4H922.82M910.3 1182.88V1207.92M1303.08 1205.7H1328.12M1315.6 1193.18V1218.22M644.58 1272.5H669.62M657.1 1259.98V1285.02M803.58 1382.9H828.62M816.1 1370.38V1395.42M1001.98 1424.2H1027.02M1014.5 1411.68V1436.72M599.88 1459.5H624.92M612.4 1446.98V1472.02M692.28 1445H717.32M704.8 1432.48V1457.52M720.78 1522.1H745.82M733.3 1509.58V1534.62M734.98 1542.3H760.02M747.5 1529.78V1554.82M732.88 1579.5H757.92M745.4 1566.98V1592.02M700.58 1602.3H725.62M713.1 1589.78V1614.82M742.28 1609.3H767.32M754.8 1596.78V1621.82M725.98 1663.1H751.02M738.5 1650.58V1675.62M973.08 1637.3H998.12M985.6 1624.78V1649.82M935.58 1669.6H960.62M948.1 1657.08V1682.12M1150.78 1656.3H1175.82M1163.3 1643.78V1668.82M1182.18 1663.1H1207.22M1194.7 1650.58V1675.62M760.08 1711.6H785.12M772.6 1699.08V1724.12M629.08 1736.2H654.12M641.6 1723.68V1748.72M433.18 1770.6H458.22M445.7 1758.08V1783.12M612.28 1853.9H637.32M624.8 1841.38V1866.42M460.08 1890.9H485.12M472.6 1878.38V1903.42M744.28 1918.1H769.32M756.8 1905.58V1930.62M772.08 1927H797.12M784.6 1914.48V1939.52M1104.48 1872.5H1129.52M1117 1859.98V1885.02M1024.48 1959.7H1049.52M1037 1947.18V1972.22M637.95 1134.55H655.65V1152.25H637.95ZM637.95 1134.55L655.65 1152.25M655.65 1134.55L637.95 1152.25M659.65 1250.95H677.35V1268.65H659.65ZM659.65 1250.95L677.35 1268.65M677.35 1250.95L659.65 1268.65M656.55 1269.05H674.25V1286.75H656.55ZM656.55 1269.05L674.25 1286.75M674.25 1269.05L656.55 1286.75M1036.45 1274.35H1054.15V1292.05H1036.45ZM1036.45 1274.35L1054.15 1292.05M1054.15 1274.35L1036.45 1292.05M747.75 1558.55H765.45V1576.25H747.75ZM747.75 1558.55L765.45 1576.25M765.45 1558.55L747.75 1576.25M741.95 1770.75H759.65V1788.45H741.95ZM741.95 1770.75L759.65 1788.45M759.65 1770.75L741.95 1788.45M732.45 1858.75H750.15V1876.45H732.45ZM732.45 1858.75L750.15 1876.45M750.15 1858.75L732.45 1876.45M794.45 1908.35H812.15V1926.05H794.45ZM794.45 1908.35L812.15 1926.05M812.15 1908.35L794.45 1926.05M985.95 1845.75H1003.65V1863.45H985.95ZM985.95 1845.75L1003.65 1863.45M1003.65 1845.75L985.95 1863.45M644.85 1259.5a8.85 8.85 0 1 0 17.7 0a8.85 8.85 0 1 0 -17.7 0ZM644.85 1259.5H662.55M653.7 1250.65V1268.35M668.65 1296.5a8.85 8.85 0 1 0 17.7 0a8.85 8.85 0 1 0 -17.7 0ZM668.65 1296.5H686.35M677.5 1287.65V1305.35M668.65 1300.7a8.85 8.85 0 1 0 17.7 0a8.85 8.85 0 1 0 -17.7 0ZM668.65 1300.7H686.35M677.5 1291.85V1309.55M756.95 1916a8.85 8.85 0 1 0 17.7 0a8.85 8.85 0 1 0 -17.7 0ZM756.95 1916H774.65M765.8 1907.15V1924.85" fill="none" stroke="#000000" stroke-width="2.95" stroke-linecap="round" stroke-linejoin="round"/>
</g>
<path d="M160.6 2100.0V2111.46M417.1 2100.0V2111.46M673.6 2100.0V2111.46M930.1 2100.0V2111.46M1186.6 2100.0V2111.46M1443.1 2100.0V2111.46M134.2 1877.4H122.74M134.2 1620.9H122.74M134.2 1364.4H122.74M134.2 1107.9H122.74M134.2 851.4H122.74M134.2 594.9H122.74" stroke="#333333" stroke-width="4.45" fill="none"/>
<text x="113.6" y="1890.4" text-anchor="end" font-size="36.67" fill="#4d4d4d" font-family="'Liberation Sans', sans-serif">0.6°N</text>
<text x="113.6" y="1633.9" text-anchor="end" font-size="36.67" fill="#4d4d4d" font-family="'Liberation Sans', sans-serif">0.7°N</text>
<text x="113.6" y="1377.4" text-anchor="end" font-size="36.67" fill="#4d4d4d" font-family="'Liberation Sans', sans-serif">0.8°N</text>
<text x="113.6" y="1120.9" text-anchor="end" font-size="36.67" fill="#4d4d4d" font-family="'Liberation Sans', sans-serif">0.9°N</text>
<text x="113.6" y="864.4" text-anchor="end" font-size="36.67" fill="#4d4d4d" font-family="'Liberation Sans', sans-serif">1.0°N</text>
<text x="113.6" y="607.9" text-anchor="end" font-size="36.67" fill="#4d4d4d" font-family="'Liberation Sans', sans-serif">1.1°N</text>
<text x="160.6" y="2146.7" text-anchor="middle" font-size="36.67" fill="#4d4d4d" font-family="'Liberation Sans', sans-serif">32.3°E</text>
<text x="417.1" y="2146.7" text-anchor="middle" font-size="36.67" fill="#4d4d4d" font-family="'Liberation Sans', sans-serif">32.4°E</text>
<text x="673.6" y="2146.7" text-anchor="middle" font-size="36.67" fill="#4d4d4d" font-family="'Liberation Sans', sans-serif">32.5°E</text>
<text x="930.1" y="2146.7" text-anchor="middle" font-size="36.67" fill="#4d4d4d" font-family="'Liberation Sans', sans-serif">32.6°E</text>
<text x="1186.6" y="2146.7" text-anchor="middle" font-size="36.67" fill="#4d4d4d" font-family="'Liberation Sans', sans-serif">32.7°E</text>
<text x="1443.1" y="2146.7" text-anchor="middle" font-size="36.67" fill="#4d4d4d" font-family="'Liberation Sans', sans-serif">32.8°E</text>
<text x="134.2" y="286" font-size="55" fill="#000000" font-family="'Liberation Sans', sans-serif">Luwero District</text>
<text x="134.2" y="352" font-size="45.83" fill="#000000" font-family="'Liberation Sans', sans-serif">Walking time to nearest health facility that reports to DHIS</text>
<text x="1563.3" y="917" font-size="45.83" fill="#000000" font-family="'Liberation Sans', sans-serif">Facility Type</text>
<rect x="1563.3" y="944" width="72" height="360" fill="#ebebeb"/>
<text x="1658.3" y="993.1" font-size="36.67" fill="#000000" font-family="'Liberation Sans', sans-serif">Clinic</text>
<text x="1658.3" y="1065.1" font-size="36.67" fill="#000000" font-family="'Liberation Sans', sans-serif">General Hospital</text>
<text x="1658.3" y="1137.1" font-size="36.67" fill="#000000" font-family="'Liberation Sans', sans-serif">HC II</text>
<text x="1658.3" y="1209.1" font-size="36.67" fill="#000000" font-family="'Liberation Sans', sans-serif">HC III</text>
<text x="1658.3" y="1281.1" font-size="36.67" fill="#000000" font-family="'Liberation Sans', sans-serif">HC IV</text>
<path d="M1590.45 980a8.85 8.85 0 1 0 17.7 0a8.85 8.85 0 1 0 -17.7 0ZM1590.45 1052a8.85 8.85 0 1 0 17.7 0a8.85 8.85 0 1 0 -17.7 0ZM1590.45 1052H1608.15M1599.3 1043.15V1060.85M1599.3 1110.24L1611.22 1130.88L1587.38 1130.88ZM1586.78 1196H1611.82M1599.3 1183.48V1208.52M1590.45 1259.15H1608.15V1276.85H1590.45ZM1590.45 1259.15L1608.15 1276.85M1608.15 1259.15L1590.45 1276.85" fill="none" stroke="#000000" stroke-width="2.95" stroke-linecap="round" stroke-linejoin="round"/>
<text x="1563.3" y="1432" font-size="45.83" fill="#000000" font-family="'Liberation Sans', sans-serif">Average walking time to nearest facility</text>
<rect x="1563.3" y="1459.6" width="72" height="72" fill="#ebebeb"/>
<rect x="1564.2" y="1460.5" width="70.2" height="70.2" fill="#f0f921" fill-opacity="0.7" stroke="#585858" stroke-width="1.78"/>
<text x="1658.3" y="1508.7" font-size="36.67" fill="#000000" font-family="'Liberation Sans', sans-serif">&lt;30 min</text>
<rect x="1563.3" y="1531.6" width="72" height="72" fill="#ebebeb"/>
<rect x="1564.2" y="1532.5" width="70.2" height="70.2" fill="#e16462" fill-opacity="0.7" stroke="#585858" stroke-width="1.78"/>
<text x="1658.3" y="1580.7" font-size="36.67" fill="#000000" font-family="'Liberation Sans', sans-serif">1-3 hrs</text>
<rect x="1812" y="1459.6" width="72" height="72" fill="#ebebeb"/>
<rect x="1812.9" y="1460.5" width="70.2" height="70.2" fill="#fca636" fill-opacity="0.7" stroke="#585858" stroke-width="1.78"/>
<text x="1907.3" y="1508.7" font-size="36.67" fill="#000000" font-family="'Liberation Sans', sans-serif">30-60 min</text>
<rect x="1812" y="1531.6" width="72" height="72" fill="#ebebeb"/>
<rect x="1812.9" y="1532.5" width="70.2" height="70.2" fill="#7f7f7f" fill-opacity="0.7" stroke="#585858" stroke-width="1.78"/>
<text x="1907.3" y="1580.7" font-size="36.67" fill="#000000" font-family="'Liberation Sans', sans-serif">NA</text>
</svg>
</body></html>
